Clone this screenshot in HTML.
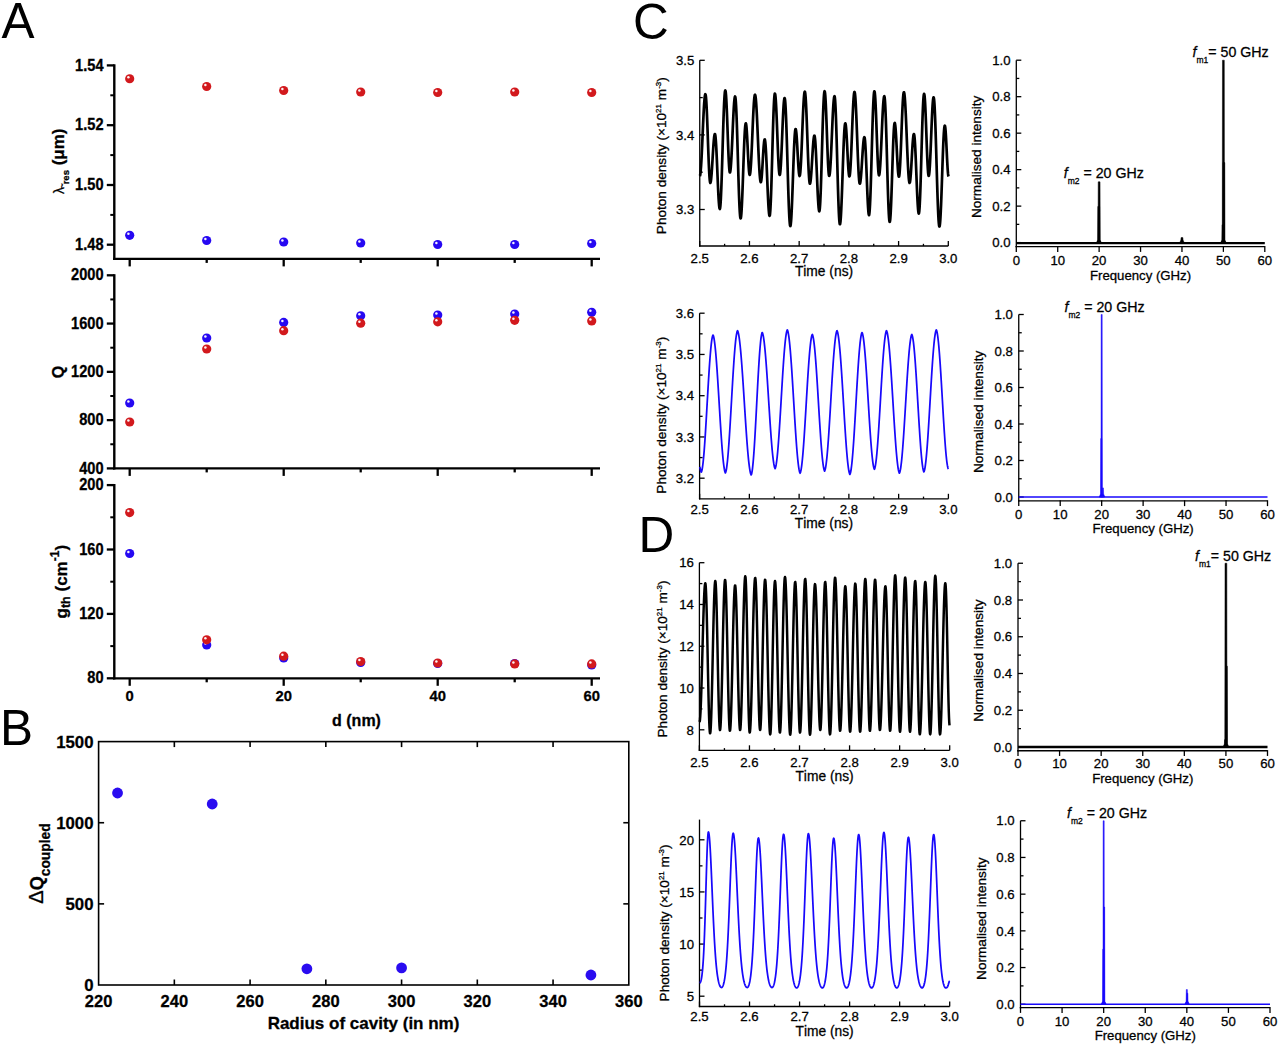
<!DOCTYPE html>
<html><head><meta charset="utf-8"><style>
html,body{margin:0;padding:0;background:#fff;}
svg{display:block;font-family:"Liberation Sans", sans-serif;font-kerning:none;}
text{stroke:#000;stroke-width:0.28px;}
</style></head><body>
<svg width="1280" height="1045" viewBox="0 0 1280 1045">
<rect width="1280" height="1045" fill="#fff"/>
<text x="1.50" y="38.00" font-size="49.5" font-weight="normal" text-anchor="start" style="stroke:none">A</text>
<text x="0.00" y="744.50" font-size="49.5" font-weight="normal" text-anchor="start" style="stroke:none">B</text>
<text x="633.00" y="38.50" font-size="49.5" font-weight="normal" text-anchor="start" style="stroke:none">C</text>
<text x="638.50" y="552.30" font-size="49.5" font-weight="normal" text-anchor="start" style="stroke:none">D</text>
<line x1="114.30" y1="64.30" x2="114.30" y2="260.00" stroke="#000" stroke-width="2.4" stroke-linecap="butt"/>
<line x1="113.10" y1="258.90" x2="600.00" y2="258.90" stroke="#000" stroke-width="2.3" stroke-linecap="butt"/>
<line x1="106.80" y1="65.40" x2="114.30" y2="65.40" stroke="#000" stroke-width="2.3" stroke-linecap="butt"/>
<g transform="translate(103.5,70.50) scale(1,1.13)"><text x="0" y="0" font-size="14.6" font-weight="bold" text-anchor="end">1.54</text></g>
<line x1="106.80" y1="125.20" x2="114.30" y2="125.20" stroke="#000" stroke-width="2.3" stroke-linecap="butt"/>
<g transform="translate(103.5,130.30) scale(1,1.13)"><text x="0" y="0" font-size="14.6" font-weight="bold" text-anchor="end">1.52</text></g>
<line x1="106.80" y1="185.00" x2="114.30" y2="185.00" stroke="#000" stroke-width="2.3" stroke-linecap="butt"/>
<g transform="translate(103.5,190.10) scale(1,1.13)"><text x="0" y="0" font-size="14.6" font-weight="bold" text-anchor="end">1.50</text></g>
<line x1="106.80" y1="244.70" x2="114.30" y2="244.70" stroke="#000" stroke-width="2.3" stroke-linecap="butt"/>
<g transform="translate(103.5,249.80) scale(1,1.13)"><text x="0" y="0" font-size="14.6" font-weight="bold" text-anchor="end">1.48</text></g>
<line x1="110.30" y1="95.30" x2="114.30" y2="95.30" stroke="#000" stroke-width="2.0" stroke-linecap="butt"/>
<line x1="110.30" y1="155.10" x2="114.30" y2="155.10" stroke="#000" stroke-width="2.0" stroke-linecap="butt"/>
<line x1="110.30" y1="214.90" x2="114.30" y2="214.90" stroke="#000" stroke-width="2.0" stroke-linecap="butt"/>
<line x1="129.70" y1="258.90" x2="129.70" y2="266.40" stroke="#000" stroke-width="2.3" stroke-linecap="butt"/>
<line x1="206.70" y1="258.90" x2="206.70" y2="262.90" stroke="#000" stroke-width="2.3" stroke-linecap="butt"/>
<line x1="283.70" y1="258.90" x2="283.70" y2="266.40" stroke="#000" stroke-width="2.3" stroke-linecap="butt"/>
<line x1="360.70" y1="258.90" x2="360.70" y2="262.90" stroke="#000" stroke-width="2.3" stroke-linecap="butt"/>
<line x1="437.70" y1="258.90" x2="437.70" y2="266.40" stroke="#000" stroke-width="2.3" stroke-linecap="butt"/>
<line x1="514.70" y1="258.90" x2="514.70" y2="262.90" stroke="#000" stroke-width="2.3" stroke-linecap="butt"/>
<line x1="591.70" y1="258.90" x2="591.70" y2="266.40" stroke="#000" stroke-width="2.3" stroke-linecap="butt"/>
<line x1="114.30" y1="274.20" x2="114.30" y2="469.50" stroke="#000" stroke-width="2.4" stroke-linecap="butt"/>
<line x1="113.10" y1="468.40" x2="600.00" y2="468.40" stroke="#000" stroke-width="2.3" stroke-linecap="butt"/>
<line x1="106.80" y1="275.30" x2="114.30" y2="275.30" stroke="#000" stroke-width="2.3" stroke-linecap="butt"/>
<g transform="translate(103.5,280.40) scale(1,1.13)"><text x="0" y="0" font-size="14.6" font-weight="bold" text-anchor="end">2000</text></g>
<line x1="106.80" y1="323.57" x2="114.30" y2="323.57" stroke="#000" stroke-width="2.3" stroke-linecap="butt"/>
<g transform="translate(103.5,328.68) scale(1,1.13)"><text x="0" y="0" font-size="14.6" font-weight="bold" text-anchor="end">1600</text></g>
<line x1="106.80" y1="371.85" x2="114.30" y2="371.85" stroke="#000" stroke-width="2.3" stroke-linecap="butt"/>
<g transform="translate(103.5,376.95) scale(1,1.13)"><text x="0" y="0" font-size="14.6" font-weight="bold" text-anchor="end">1200</text></g>
<line x1="106.80" y1="420.12" x2="114.30" y2="420.12" stroke="#000" stroke-width="2.3" stroke-linecap="butt"/>
<g transform="translate(103.5,425.23) scale(1,1.13)"><text x="0" y="0" font-size="14.6" font-weight="bold" text-anchor="end">800</text></g>
<line x1="106.80" y1="468.40" x2="114.30" y2="468.40" stroke="#000" stroke-width="2.3" stroke-linecap="butt"/>
<g transform="translate(103.5,473.50) scale(1,1.13)"><text x="0" y="0" font-size="14.6" font-weight="bold" text-anchor="end">400</text></g>
<line x1="110.30" y1="299.44" x2="114.30" y2="299.44" stroke="#000" stroke-width="2.0" stroke-linecap="butt"/>
<line x1="110.30" y1="347.71" x2="114.30" y2="347.71" stroke="#000" stroke-width="2.0" stroke-linecap="butt"/>
<line x1="110.30" y1="395.99" x2="114.30" y2="395.99" stroke="#000" stroke-width="2.0" stroke-linecap="butt"/>
<line x1="110.30" y1="444.26" x2="114.30" y2="444.26" stroke="#000" stroke-width="2.0" stroke-linecap="butt"/>
<line x1="129.70" y1="468.40" x2="129.70" y2="475.90" stroke="#000" stroke-width="2.3" stroke-linecap="butt"/>
<line x1="206.70" y1="468.40" x2="206.70" y2="472.40" stroke="#000" stroke-width="2.3" stroke-linecap="butt"/>
<line x1="283.70" y1="468.40" x2="283.70" y2="475.90" stroke="#000" stroke-width="2.3" stroke-linecap="butt"/>
<line x1="360.70" y1="468.40" x2="360.70" y2="472.40" stroke="#000" stroke-width="2.3" stroke-linecap="butt"/>
<line x1="437.70" y1="468.40" x2="437.70" y2="475.90" stroke="#000" stroke-width="2.3" stroke-linecap="butt"/>
<line x1="514.70" y1="468.40" x2="514.70" y2="472.40" stroke="#000" stroke-width="2.3" stroke-linecap="butt"/>
<line x1="591.70" y1="468.40" x2="591.70" y2="475.90" stroke="#000" stroke-width="2.3" stroke-linecap="butt"/>
<line x1="114.30" y1="484.00" x2="114.30" y2="679.40" stroke="#000" stroke-width="2.4" stroke-linecap="butt"/>
<line x1="113.10" y1="678.30" x2="600.00" y2="678.30" stroke="#000" stroke-width="2.3" stroke-linecap="butt"/>
<line x1="106.80" y1="485.10" x2="114.30" y2="485.10" stroke="#000" stroke-width="2.3" stroke-linecap="butt"/>
<g transform="translate(103.5,490.20) scale(1,1.13)"><text x="0" y="0" font-size="14.6" font-weight="bold" text-anchor="end">200</text></g>
<line x1="106.80" y1="549.50" x2="114.30" y2="549.50" stroke="#000" stroke-width="2.3" stroke-linecap="butt"/>
<g transform="translate(103.5,554.60) scale(1,1.13)"><text x="0" y="0" font-size="14.6" font-weight="bold" text-anchor="end">160</text></g>
<line x1="106.80" y1="613.90" x2="114.30" y2="613.90" stroke="#000" stroke-width="2.3" stroke-linecap="butt"/>
<g transform="translate(103.5,619.00) scale(1,1.13)"><text x="0" y="0" font-size="14.6" font-weight="bold" text-anchor="end">120</text></g>
<line x1="106.80" y1="678.30" x2="114.30" y2="678.30" stroke="#000" stroke-width="2.3" stroke-linecap="butt"/>
<g transform="translate(103.5,683.40) scale(1,1.13)"><text x="0" y="0" font-size="14.6" font-weight="bold" text-anchor="end">80</text></g>
<line x1="110.30" y1="517.30" x2="114.30" y2="517.30" stroke="#000" stroke-width="2.0" stroke-linecap="butt"/>
<line x1="110.30" y1="581.70" x2="114.30" y2="581.70" stroke="#000" stroke-width="2.0" stroke-linecap="butt"/>
<line x1="110.30" y1="646.10" x2="114.30" y2="646.10" stroke="#000" stroke-width="2.0" stroke-linecap="butt"/>
<line x1="129.70" y1="678.30" x2="129.70" y2="685.80" stroke="#000" stroke-width="2.3" stroke-linecap="butt"/>
<line x1="206.70" y1="678.30" x2="206.70" y2="682.30" stroke="#000" stroke-width="2.3" stroke-linecap="butt"/>
<line x1="283.70" y1="678.30" x2="283.70" y2="685.80" stroke="#000" stroke-width="2.3" stroke-linecap="butt"/>
<line x1="360.70" y1="678.30" x2="360.70" y2="682.30" stroke="#000" stroke-width="2.3" stroke-linecap="butt"/>
<line x1="437.70" y1="678.30" x2="437.70" y2="685.80" stroke="#000" stroke-width="2.3" stroke-linecap="butt"/>
<line x1="514.70" y1="678.30" x2="514.70" y2="682.30" stroke="#000" stroke-width="2.3" stroke-linecap="butt"/>
<line x1="591.70" y1="678.30" x2="591.70" y2="685.80" stroke="#000" stroke-width="2.3" stroke-linecap="butt"/>
<text x="129.70" y="701.30" font-size="14.8" font-weight="bold" text-anchor="middle" >0</text>
<text x="283.70" y="701.30" font-size="14.8" font-weight="bold" text-anchor="middle" >20</text>
<text x="437.70" y="701.30" font-size="14.8" font-weight="bold" text-anchor="middle" >40</text>
<text x="591.70" y="701.30" font-size="14.8" font-weight="bold" text-anchor="middle" >60</text>
<text x="356.50" y="725.50" font-size="16" font-weight="bold" text-anchor="middle" >d (nm)</text>
<g transform="translate(63.8,161.3) rotate(-90)"><text x="0" y="0" font-size="17" font-weight="bold" text-anchor="middle"><tspan font-weight="normal" font-size="14">λ</tspan><tspan font-size="9" font-weight="normal" dx="-1.5" dy="1">~</tspan><tspan font-size="9.5" dx="-1" dy="4">res</tspan><tspan dy="-5"> (μm)</tspan></text></g>
<g transform="translate(63.5,372) rotate(-90)"><text x="0" y="0" font-size="16" font-weight="bold" text-anchor="middle">Q</text></g>
<g transform="translate(66.5,581.7) rotate(-90)"><text x="0" y="0" font-size="17" font-weight="bold" text-anchor="middle">g<tspan font-size="12.5" dy="3">th</tspan><tspan dy="-3"> (cm</tspan><tspan font-size="12" dy="-7.5">-1</tspan><tspan dy="7.5">)</tspan></text></g>
<circle cx="129.70" cy="78.75" r="4.6" fill="#d2191d"/>
<circle cx="128.40" cy="77.25" r="1.25" fill="#fff" opacity="0.95"/>
<circle cx="129.70" cy="235.30" r="4.6" fill="#2608f2"/>
<circle cx="128.40" cy="233.80" r="1.25" fill="#fff" opacity="0.95"/>
<circle cx="129.70" cy="403.00" r="4.6" fill="#2608f2"/>
<circle cx="128.40" cy="401.50" r="1.25" fill="#fff" opacity="0.95"/>
<circle cx="129.70" cy="422.00" r="4.6" fill="#d2191d"/>
<circle cx="128.40" cy="420.50" r="1.25" fill="#fff" opacity="0.95"/>
<circle cx="129.70" cy="553.50" r="4.6" fill="#2608f2"/>
<circle cx="128.40" cy="552.00" r="1.25" fill="#fff" opacity="0.95"/>
<circle cx="129.70" cy="512.60" r="4.6" fill="#d2191d"/>
<circle cx="128.40" cy="511.10" r="1.25" fill="#fff" opacity="0.95"/>
<circle cx="206.70" cy="86.50" r="4.6" fill="#d2191d"/>
<circle cx="205.40" cy="85.00" r="1.25" fill="#fff" opacity="0.95"/>
<circle cx="206.70" cy="240.50" r="4.6" fill="#2608f2"/>
<circle cx="205.40" cy="239.00" r="1.25" fill="#fff" opacity="0.95"/>
<circle cx="206.70" cy="338.00" r="4.6" fill="#2608f2"/>
<circle cx="205.40" cy="336.50" r="1.25" fill="#fff" opacity="0.95"/>
<circle cx="206.70" cy="349.00" r="4.6" fill="#d2191d"/>
<circle cx="205.40" cy="347.50" r="1.25" fill="#fff" opacity="0.95"/>
<circle cx="206.70" cy="645.00" r="4.6" fill="#2608f2"/>
<circle cx="205.40" cy="643.50" r="1.25" fill="#fff" opacity="0.95"/>
<circle cx="206.70" cy="639.80" r="4.6" fill="#d2191d"/>
<circle cx="205.40" cy="638.30" r="1.25" fill="#fff" opacity="0.95"/>
<circle cx="283.70" cy="90.50" r="4.6" fill="#d2191d"/>
<circle cx="282.40" cy="89.00" r="1.25" fill="#fff" opacity="0.95"/>
<circle cx="283.70" cy="242.00" r="4.6" fill="#2608f2"/>
<circle cx="282.40" cy="240.50" r="1.25" fill="#fff" opacity="0.95"/>
<circle cx="283.70" cy="322.40" r="4.6" fill="#2608f2"/>
<circle cx="282.40" cy="320.90" r="1.25" fill="#fff" opacity="0.95"/>
<circle cx="283.70" cy="330.70" r="4.6" fill="#d2191d"/>
<circle cx="282.40" cy="329.20" r="1.25" fill="#fff" opacity="0.95"/>
<circle cx="283.70" cy="658.00" r="4.6" fill="#2608f2"/>
<circle cx="282.40" cy="656.50" r="1.25" fill="#fff" opacity="0.95"/>
<circle cx="283.70" cy="656.20" r="4.6" fill="#d2191d"/>
<circle cx="282.40" cy="654.70" r="1.25" fill="#fff" opacity="0.95"/>
<circle cx="360.70" cy="92.00" r="4.6" fill="#d2191d"/>
<circle cx="359.40" cy="90.50" r="1.25" fill="#fff" opacity="0.95"/>
<circle cx="360.70" cy="243.00" r="4.6" fill="#2608f2"/>
<circle cx="359.40" cy="241.50" r="1.25" fill="#fff" opacity="0.95"/>
<circle cx="360.70" cy="315.80" r="4.6" fill="#2608f2"/>
<circle cx="359.40" cy="314.30" r="1.25" fill="#fff" opacity="0.95"/>
<circle cx="360.70" cy="323.20" r="4.6" fill="#d2191d"/>
<circle cx="359.40" cy="321.70" r="1.25" fill="#fff" opacity="0.95"/>
<circle cx="360.70" cy="662.50" r="4.6" fill="#2608f2"/>
<circle cx="359.40" cy="661.00" r="1.25" fill="#fff" opacity="0.95"/>
<circle cx="360.70" cy="661.50" r="4.6" fill="#d2191d"/>
<circle cx="359.40" cy="660.00" r="1.25" fill="#fff" opacity="0.95"/>
<circle cx="437.70" cy="92.50" r="4.6" fill="#d2191d"/>
<circle cx="436.40" cy="91.00" r="1.25" fill="#fff" opacity="0.95"/>
<circle cx="437.70" cy="244.50" r="4.6" fill="#2608f2"/>
<circle cx="436.40" cy="243.00" r="1.25" fill="#fff" opacity="0.95"/>
<circle cx="437.70" cy="315.00" r="4.6" fill="#2608f2"/>
<circle cx="436.40" cy="313.50" r="1.25" fill="#fff" opacity="0.95"/>
<circle cx="437.70" cy="321.80" r="4.6" fill="#d2191d"/>
<circle cx="436.40" cy="320.30" r="1.25" fill="#fff" opacity="0.95"/>
<circle cx="437.70" cy="663.50" r="4.6" fill="#2608f2"/>
<circle cx="436.40" cy="662.00" r="1.25" fill="#fff" opacity="0.95"/>
<circle cx="437.70" cy="663.00" r="4.6" fill="#d2191d"/>
<circle cx="436.40" cy="661.50" r="1.25" fill="#fff" opacity="0.95"/>
<circle cx="514.70" cy="92.00" r="4.6" fill="#d2191d"/>
<circle cx="513.40" cy="90.50" r="1.25" fill="#fff" opacity="0.95"/>
<circle cx="514.70" cy="244.50" r="4.6" fill="#2608f2"/>
<circle cx="513.40" cy="243.00" r="1.25" fill="#fff" opacity="0.95"/>
<circle cx="514.70" cy="314.00" r="4.6" fill="#2608f2"/>
<circle cx="513.40" cy="312.50" r="1.25" fill="#fff" opacity="0.95"/>
<circle cx="514.70" cy="320.30" r="4.6" fill="#d2191d"/>
<circle cx="513.40" cy="318.80" r="1.25" fill="#fff" opacity="0.95"/>
<circle cx="514.70" cy="663.50" r="4.6" fill="#2608f2"/>
<circle cx="513.40" cy="662.00" r="1.25" fill="#fff" opacity="0.95"/>
<circle cx="514.70" cy="663.90" r="4.6" fill="#d2191d"/>
<circle cx="513.40" cy="662.40" r="1.25" fill="#fff" opacity="0.95"/>
<circle cx="591.70" cy="92.50" r="4.6" fill="#d2191d"/>
<circle cx="590.40" cy="91.00" r="1.25" fill="#fff" opacity="0.95"/>
<circle cx="591.70" cy="243.50" r="4.6" fill="#2608f2"/>
<circle cx="590.40" cy="242.00" r="1.25" fill="#fff" opacity="0.95"/>
<circle cx="591.70" cy="312.30" r="4.6" fill="#2608f2"/>
<circle cx="590.40" cy="310.80" r="1.25" fill="#fff" opacity="0.95"/>
<circle cx="591.70" cy="320.90" r="4.6" fill="#d2191d"/>
<circle cx="590.40" cy="319.40" r="1.25" fill="#fff" opacity="0.95"/>
<circle cx="591.70" cy="665.00" r="4.6" fill="#2608f2"/>
<circle cx="590.40" cy="663.50" r="1.25" fill="#fff" opacity="0.95"/>
<circle cx="591.70" cy="663.90" r="4.6" fill="#d2191d"/>
<circle cx="590.40" cy="662.40" r="1.25" fill="#fff" opacity="0.95"/>
<rect x="98.6" y="741.6" width="530.1999999999999" height="243.39999999999998" fill="none" stroke="#000" stroke-width="1.6"/>
<text x="98.60" y="1007.30" font-size="16.5" font-weight="bold" text-anchor="middle" >220</text>
<line x1="174.34" y1="985.00" x2="174.34" y2="979.50" stroke="#000" stroke-width="1.6" stroke-linecap="butt"/>
<line x1="174.34" y1="741.60" x2="174.34" y2="747.10" stroke="#000" stroke-width="1.6" stroke-linecap="butt"/>
<text x="174.34" y="1007.30" font-size="16.5" font-weight="bold" text-anchor="middle" >240</text>
<line x1="250.09" y1="985.00" x2="250.09" y2="979.50" stroke="#000" stroke-width="1.6" stroke-linecap="butt"/>
<line x1="250.09" y1="741.60" x2="250.09" y2="747.10" stroke="#000" stroke-width="1.6" stroke-linecap="butt"/>
<text x="250.09" y="1007.30" font-size="16.5" font-weight="bold" text-anchor="middle" >260</text>
<line x1="325.83" y1="985.00" x2="325.83" y2="979.50" stroke="#000" stroke-width="1.6" stroke-linecap="butt"/>
<line x1="325.83" y1="741.60" x2="325.83" y2="747.10" stroke="#000" stroke-width="1.6" stroke-linecap="butt"/>
<text x="325.83" y="1007.30" font-size="16.5" font-weight="bold" text-anchor="middle" >280</text>
<line x1="401.57" y1="985.00" x2="401.57" y2="979.50" stroke="#000" stroke-width="1.6" stroke-linecap="butt"/>
<line x1="401.57" y1="741.60" x2="401.57" y2="747.10" stroke="#000" stroke-width="1.6" stroke-linecap="butt"/>
<text x="401.57" y="1007.30" font-size="16.5" font-weight="bold" text-anchor="middle" >300</text>
<line x1="477.31" y1="985.00" x2="477.31" y2="979.50" stroke="#000" stroke-width="1.6" stroke-linecap="butt"/>
<line x1="477.31" y1="741.60" x2="477.31" y2="747.10" stroke="#000" stroke-width="1.6" stroke-linecap="butt"/>
<text x="477.31" y="1007.30" font-size="16.5" font-weight="bold" text-anchor="middle" >320</text>
<line x1="553.06" y1="985.00" x2="553.06" y2="979.50" stroke="#000" stroke-width="1.6" stroke-linecap="butt"/>
<line x1="553.06" y1="741.60" x2="553.06" y2="747.10" stroke="#000" stroke-width="1.6" stroke-linecap="butt"/>
<text x="553.06" y="1007.30" font-size="16.5" font-weight="bold" text-anchor="middle" >340</text>
<text x="628.80" y="1007.30" font-size="16.5" font-weight="bold" text-anchor="middle" >360</text>
<text x="93.50" y="991.00" font-size="16.8" font-weight="bold" text-anchor="end" >0</text>
<line x1="98.60" y1="903.87" x2="104.10" y2="903.87" stroke="#000" stroke-width="1.6" stroke-linecap="butt"/>
<line x1="628.80" y1="903.87" x2="623.30" y2="903.87" stroke="#000" stroke-width="1.6" stroke-linecap="butt"/>
<text x="93.50" y="909.87" font-size="16.8" font-weight="bold" text-anchor="end" >500</text>
<line x1="98.60" y1="822.73" x2="104.10" y2="822.73" stroke="#000" stroke-width="1.6" stroke-linecap="butt"/>
<line x1="628.80" y1="822.73" x2="623.30" y2="822.73" stroke="#000" stroke-width="1.6" stroke-linecap="butt"/>
<text x="93.50" y="828.73" font-size="16.8" font-weight="bold" text-anchor="end" >1000</text>
<text x="93.50" y="747.60" font-size="16.8" font-weight="bold" text-anchor="end" >1500</text>
<text x="363.50" y="1029.00" font-size="17" font-weight="bold" text-anchor="middle" >Radius of cavity (in nm)</text>
<g transform="translate(42.8,863.5) rotate(-90)"><text x="0" y="0" font-size="18" font-weight="bold" text-anchor="middle"><tspan font-weight="normal" font-size="20">Δ</tspan>Q<tspan font-size="13.8" dy="7">coupled</tspan></text></g>
<circle cx="117.54" cy="793.00" r="5.4" fill="#2a0cf0"/>
<circle cx="212.21" cy="804.00" r="5.4" fill="#2a0cf0"/>
<circle cx="306.89" cy="968.80" r="5.4" fill="#2a0cf0"/>
<circle cx="401.57" cy="967.90" r="5.4" fill="#2a0cf0"/>
<circle cx="590.93" cy="975.00" r="5.4" fill="#2a0cf0"/>
<line x1="699.75" y1="60.30" x2="699.75" y2="246.65" stroke="#000" stroke-width="1.3" stroke-linecap="butt"/>
<line x1="699.10" y1="246.00" x2="948.30" y2="246.00" stroke="#000" stroke-width="1.3" stroke-linecap="butt"/>
<line x1="699.75" y1="246.00" x2="699.75" y2="241.00" stroke="#000" stroke-width="1.3" stroke-linecap="butt"/>
<line x1="724.61" y1="246.00" x2="724.61" y2="243.80" stroke="#000" stroke-width="1.3" stroke-linecap="butt"/>
<line x1="749.46" y1="246.00" x2="749.46" y2="241.00" stroke="#000" stroke-width="1.3" stroke-linecap="butt"/>
<line x1="774.31" y1="246.00" x2="774.31" y2="243.80" stroke="#000" stroke-width="1.3" stroke-linecap="butt"/>
<line x1="799.17" y1="246.00" x2="799.17" y2="241.00" stroke="#000" stroke-width="1.3" stroke-linecap="butt"/>
<line x1="824.02" y1="246.00" x2="824.02" y2="243.80" stroke="#000" stroke-width="1.3" stroke-linecap="butt"/>
<line x1="848.88" y1="246.00" x2="848.88" y2="241.00" stroke="#000" stroke-width="1.3" stroke-linecap="butt"/>
<line x1="873.73" y1="246.00" x2="873.73" y2="243.80" stroke="#000" stroke-width="1.3" stroke-linecap="butt"/>
<line x1="898.59" y1="246.00" x2="898.59" y2="241.00" stroke="#000" stroke-width="1.3" stroke-linecap="butt"/>
<line x1="923.44" y1="246.00" x2="923.44" y2="243.80" stroke="#000" stroke-width="1.3" stroke-linecap="butt"/>
<line x1="948.30" y1="246.00" x2="948.30" y2="241.00" stroke="#000" stroke-width="1.3" stroke-linecap="butt"/>
<line x1="699.75" y1="60.30" x2="704.75" y2="60.30" stroke="#000" stroke-width="1.3" stroke-linecap="butt"/>
<text x="694.25" y="65.00" font-size="13.2" font-weight="normal" text-anchor="end" >3.5</text>
<line x1="699.75" y1="134.90" x2="704.75" y2="134.90" stroke="#000" stroke-width="1.3" stroke-linecap="butt"/>
<text x="694.25" y="139.60" font-size="13.2" font-weight="normal" text-anchor="end" >3.4</text>
<line x1="699.75" y1="209.50" x2="704.75" y2="209.50" stroke="#000" stroke-width="1.3" stroke-linecap="butt"/>
<text x="694.25" y="214.20" font-size="13.2" font-weight="normal" text-anchor="end" >3.3</text>
<line x1="699.75" y1="97.60" x2="702.75" y2="97.60" stroke="#000" stroke-width="1.3" stroke-linecap="butt"/>
<line x1="699.75" y1="172.20" x2="702.75" y2="172.20" stroke="#000" stroke-width="1.3" stroke-linecap="butt"/>
<text x="699.75" y="262.50" font-size="13.2" font-weight="normal" text-anchor="middle" >2.5</text>
<text x="749.46" y="262.50" font-size="13.2" font-weight="normal" text-anchor="middle" >2.6</text>
<text x="799.17" y="262.50" font-size="13.2" font-weight="normal" text-anchor="middle" >2.7</text>
<text x="848.88" y="262.50" font-size="13.2" font-weight="normal" text-anchor="middle" >2.8</text>
<text x="898.59" y="262.50" font-size="13.2" font-weight="normal" text-anchor="middle" >2.9</text>
<text x="948.30" y="262.50" font-size="13.2" font-weight="normal" text-anchor="middle" >3.0</text>
<text x="824.02" y="276.20" font-size="13.8" font-weight="normal" text-anchor="middle" >Time (ns)</text>
<g transform="translate(666.3,155.7) rotate(-90)"><text x="0" y="0" font-size="13.6" text-anchor="middle">Photon density (×10<tspan font-size="8" dy="-5">21</tspan><tspan dy="5"> m</tspan><tspan font-size="8" dy="-5">-3</tspan><tspan dy="5">)</tspan></text></g>
<line x1="699.60" y1="313.20" x2="699.60" y2="499.45" stroke="#000" stroke-width="1.3" stroke-linecap="butt"/>
<line x1="698.95" y1="498.80" x2="948.40" y2="498.80" stroke="#000" stroke-width="1.3" stroke-linecap="butt"/>
<line x1="699.60" y1="498.80" x2="699.60" y2="493.80" stroke="#000" stroke-width="1.3" stroke-linecap="butt"/>
<line x1="724.48" y1="498.80" x2="724.48" y2="496.60" stroke="#000" stroke-width="1.3" stroke-linecap="butt"/>
<line x1="749.36" y1="498.80" x2="749.36" y2="493.80" stroke="#000" stroke-width="1.3" stroke-linecap="butt"/>
<line x1="774.24" y1="498.80" x2="774.24" y2="496.60" stroke="#000" stroke-width="1.3" stroke-linecap="butt"/>
<line x1="799.12" y1="498.80" x2="799.12" y2="493.80" stroke="#000" stroke-width="1.3" stroke-linecap="butt"/>
<line x1="824.00" y1="498.80" x2="824.00" y2="496.60" stroke="#000" stroke-width="1.3" stroke-linecap="butt"/>
<line x1="848.88" y1="498.80" x2="848.88" y2="493.80" stroke="#000" stroke-width="1.3" stroke-linecap="butt"/>
<line x1="873.76" y1="498.80" x2="873.76" y2="496.60" stroke="#000" stroke-width="1.3" stroke-linecap="butt"/>
<line x1="898.64" y1="498.80" x2="898.64" y2="493.80" stroke="#000" stroke-width="1.3" stroke-linecap="butt"/>
<line x1="923.52" y1="498.80" x2="923.52" y2="496.60" stroke="#000" stroke-width="1.3" stroke-linecap="butt"/>
<line x1="948.40" y1="498.80" x2="948.40" y2="493.80" stroke="#000" stroke-width="1.3" stroke-linecap="butt"/>
<line x1="699.60" y1="313.20" x2="704.60" y2="313.20" stroke="#000" stroke-width="1.3" stroke-linecap="butt"/>
<text x="694.10" y="317.90" font-size="13.2" font-weight="normal" text-anchor="end" >3.6</text>
<line x1="699.60" y1="354.45" x2="704.60" y2="354.45" stroke="#000" stroke-width="1.3" stroke-linecap="butt"/>
<text x="694.10" y="359.15" font-size="13.2" font-weight="normal" text-anchor="end" >3.5</text>
<line x1="699.60" y1="395.70" x2="704.60" y2="395.70" stroke="#000" stroke-width="1.3" stroke-linecap="butt"/>
<text x="694.10" y="400.40" font-size="13.2" font-weight="normal" text-anchor="end" >3.4</text>
<line x1="699.60" y1="436.95" x2="704.60" y2="436.95" stroke="#000" stroke-width="1.3" stroke-linecap="butt"/>
<text x="694.10" y="441.65" font-size="13.2" font-weight="normal" text-anchor="end" >3.3</text>
<line x1="699.60" y1="478.20" x2="704.60" y2="478.20" stroke="#000" stroke-width="1.3" stroke-linecap="butt"/>
<text x="694.10" y="482.90" font-size="13.2" font-weight="normal" text-anchor="end" >3.2</text>
<line x1="699.60" y1="333.83" x2="702.60" y2="333.83" stroke="#000" stroke-width="1.3" stroke-linecap="butt"/>
<line x1="699.60" y1="375.07" x2="702.60" y2="375.07" stroke="#000" stroke-width="1.3" stroke-linecap="butt"/>
<line x1="699.60" y1="416.32" x2="702.60" y2="416.32" stroke="#000" stroke-width="1.3" stroke-linecap="butt"/>
<line x1="699.60" y1="457.58" x2="702.60" y2="457.58" stroke="#000" stroke-width="1.3" stroke-linecap="butt"/>
<text x="699.60" y="513.70" font-size="13.2" font-weight="normal" text-anchor="middle" >2.5</text>
<text x="749.36" y="513.70" font-size="13.2" font-weight="normal" text-anchor="middle" >2.6</text>
<text x="799.12" y="513.70" font-size="13.2" font-weight="normal" text-anchor="middle" >2.7</text>
<text x="848.88" y="513.70" font-size="13.2" font-weight="normal" text-anchor="middle" >2.8</text>
<text x="898.64" y="513.70" font-size="13.2" font-weight="normal" text-anchor="middle" >2.9</text>
<text x="948.40" y="513.70" font-size="13.2" font-weight="normal" text-anchor="middle" >3.0</text>
<text x="824.00" y="527.70" font-size="13.8" font-weight="normal" text-anchor="middle" >Time (ns)</text>
<g transform="translate(666.3,415.2) rotate(-90)"><text x="0" y="0" font-size="13.6" text-anchor="middle">Photon density (×10<tspan font-size="8" dy="-5">21</tspan><tspan dy="5"> m</tspan><tspan font-size="8" dy="-5">-3</tspan><tspan dy="5">)</tspan></text></g>
<line x1="699.40" y1="562.70" x2="699.40" y2="750.95" stroke="#000" stroke-width="1.3" stroke-linecap="butt"/>
<line x1="698.75" y1="750.30" x2="949.70" y2="750.30" stroke="#000" stroke-width="1.3" stroke-linecap="butt"/>
<line x1="699.40" y1="750.30" x2="699.40" y2="745.30" stroke="#000" stroke-width="1.3" stroke-linecap="butt"/>
<line x1="724.43" y1="750.30" x2="724.43" y2="748.10" stroke="#000" stroke-width="1.3" stroke-linecap="butt"/>
<line x1="749.46" y1="750.30" x2="749.46" y2="745.30" stroke="#000" stroke-width="1.3" stroke-linecap="butt"/>
<line x1="774.49" y1="750.30" x2="774.49" y2="748.10" stroke="#000" stroke-width="1.3" stroke-linecap="butt"/>
<line x1="799.52" y1="750.30" x2="799.52" y2="745.30" stroke="#000" stroke-width="1.3" stroke-linecap="butt"/>
<line x1="824.55" y1="750.30" x2="824.55" y2="748.10" stroke="#000" stroke-width="1.3" stroke-linecap="butt"/>
<line x1="849.58" y1="750.30" x2="849.58" y2="745.30" stroke="#000" stroke-width="1.3" stroke-linecap="butt"/>
<line x1="874.61" y1="750.30" x2="874.61" y2="748.10" stroke="#000" stroke-width="1.3" stroke-linecap="butt"/>
<line x1="899.64" y1="750.30" x2="899.64" y2="745.30" stroke="#000" stroke-width="1.3" stroke-linecap="butt"/>
<line x1="924.67" y1="750.30" x2="924.67" y2="748.10" stroke="#000" stroke-width="1.3" stroke-linecap="butt"/>
<line x1="949.70" y1="750.30" x2="949.70" y2="745.30" stroke="#000" stroke-width="1.3" stroke-linecap="butt"/>
<line x1="699.40" y1="562.70" x2="704.40" y2="562.70" stroke="#000" stroke-width="1.3" stroke-linecap="butt"/>
<text x="693.90" y="567.40" font-size="13.2" font-weight="normal" text-anchor="end" >16</text>
<line x1="699.40" y1="604.48" x2="704.40" y2="604.48" stroke="#000" stroke-width="1.3" stroke-linecap="butt"/>
<text x="693.90" y="609.18" font-size="13.2" font-weight="normal" text-anchor="end" >14</text>
<line x1="699.40" y1="646.25" x2="704.40" y2="646.25" stroke="#000" stroke-width="1.3" stroke-linecap="butt"/>
<text x="693.90" y="650.95" font-size="13.2" font-weight="normal" text-anchor="end" >12</text>
<line x1="699.40" y1="688.02" x2="704.40" y2="688.02" stroke="#000" stroke-width="1.3" stroke-linecap="butt"/>
<text x="693.90" y="692.73" font-size="13.2" font-weight="normal" text-anchor="end" >10</text>
<line x1="699.40" y1="729.80" x2="704.40" y2="729.80" stroke="#000" stroke-width="1.3" stroke-linecap="butt"/>
<text x="693.90" y="734.50" font-size="13.2" font-weight="normal" text-anchor="end" >8</text>
<line x1="699.40" y1="583.59" x2="702.40" y2="583.59" stroke="#000" stroke-width="1.3" stroke-linecap="butt"/>
<line x1="699.40" y1="625.36" x2="702.40" y2="625.36" stroke="#000" stroke-width="1.3" stroke-linecap="butt"/>
<line x1="699.40" y1="667.14" x2="702.40" y2="667.14" stroke="#000" stroke-width="1.3" stroke-linecap="butt"/>
<line x1="699.40" y1="708.91" x2="702.40" y2="708.91" stroke="#000" stroke-width="1.3" stroke-linecap="butt"/>
<text x="699.40" y="766.50" font-size="13.2" font-weight="normal" text-anchor="middle" >2.5</text>
<text x="749.46" y="766.50" font-size="13.2" font-weight="normal" text-anchor="middle" >2.6</text>
<text x="799.52" y="766.50" font-size="13.2" font-weight="normal" text-anchor="middle" >2.7</text>
<text x="849.58" y="766.50" font-size="13.2" font-weight="normal" text-anchor="middle" >2.8</text>
<text x="899.64" y="766.50" font-size="13.2" font-weight="normal" text-anchor="middle" >2.9</text>
<text x="949.70" y="766.50" font-size="13.2" font-weight="normal" text-anchor="middle" >3.0</text>
<text x="824.55" y="780.50" font-size="13.8" font-weight="normal" text-anchor="middle" >Time (ns)</text>
<g transform="translate(667.3,659) rotate(-90)"><text x="0" y="0" font-size="13.6" text-anchor="middle">Photon density (×10<tspan font-size="8" dy="-5">21</tspan><tspan dy="5"> m</tspan><tspan font-size="8" dy="-5">-3</tspan><tspan dy="5">)</tspan></text></g>
<line x1="699.50" y1="819.60" x2="699.50" y2="1007.15" stroke="#000" stroke-width="1.3" stroke-linecap="butt"/>
<line x1="698.85" y1="1006.50" x2="949.70" y2="1006.50" stroke="#000" stroke-width="1.3" stroke-linecap="butt"/>
<line x1="699.50" y1="1006.50" x2="699.50" y2="1001.50" stroke="#000" stroke-width="1.3" stroke-linecap="butt"/>
<line x1="724.52" y1="1006.50" x2="724.52" y2="1004.30" stroke="#000" stroke-width="1.3" stroke-linecap="butt"/>
<line x1="749.54" y1="1006.50" x2="749.54" y2="1001.50" stroke="#000" stroke-width="1.3" stroke-linecap="butt"/>
<line x1="774.56" y1="1006.50" x2="774.56" y2="1004.30" stroke="#000" stroke-width="1.3" stroke-linecap="butt"/>
<line x1="799.58" y1="1006.50" x2="799.58" y2="1001.50" stroke="#000" stroke-width="1.3" stroke-linecap="butt"/>
<line x1="824.60" y1="1006.50" x2="824.60" y2="1004.30" stroke="#000" stroke-width="1.3" stroke-linecap="butt"/>
<line x1="849.62" y1="1006.50" x2="849.62" y2="1001.50" stroke="#000" stroke-width="1.3" stroke-linecap="butt"/>
<line x1="874.64" y1="1006.50" x2="874.64" y2="1004.30" stroke="#000" stroke-width="1.3" stroke-linecap="butt"/>
<line x1="899.66" y1="1006.50" x2="899.66" y2="1001.50" stroke="#000" stroke-width="1.3" stroke-linecap="butt"/>
<line x1="924.68" y1="1006.50" x2="924.68" y2="1004.30" stroke="#000" stroke-width="1.3" stroke-linecap="butt"/>
<line x1="949.70" y1="1006.50" x2="949.70" y2="1001.50" stroke="#000" stroke-width="1.3" stroke-linecap="butt"/>
<line x1="699.50" y1="839.80" x2="704.50" y2="839.80" stroke="#000" stroke-width="1.3" stroke-linecap="butt"/>
<text x="694.00" y="844.50" font-size="13.2" font-weight="normal" text-anchor="end" >20</text>
<line x1="699.50" y1="891.93" x2="704.50" y2="891.93" stroke="#000" stroke-width="1.3" stroke-linecap="butt"/>
<text x="694.00" y="896.63" font-size="13.2" font-weight="normal" text-anchor="end" >15</text>
<line x1="699.50" y1="944.07" x2="704.50" y2="944.07" stroke="#000" stroke-width="1.3" stroke-linecap="butt"/>
<text x="694.00" y="948.77" font-size="13.2" font-weight="normal" text-anchor="end" >10</text>
<line x1="699.50" y1="996.20" x2="704.50" y2="996.20" stroke="#000" stroke-width="1.3" stroke-linecap="butt"/>
<text x="694.00" y="1000.90" font-size="13.2" font-weight="normal" text-anchor="end" >5</text>
<line x1="699.50" y1="865.87" x2="702.50" y2="865.87" stroke="#000" stroke-width="1.3" stroke-linecap="butt"/>
<line x1="699.50" y1="918.00" x2="702.50" y2="918.00" stroke="#000" stroke-width="1.3" stroke-linecap="butt"/>
<line x1="699.50" y1="970.13" x2="702.50" y2="970.13" stroke="#000" stroke-width="1.3" stroke-linecap="butt"/>
<text x="699.50" y="1021.40" font-size="13.2" font-weight="normal" text-anchor="middle" >2.5</text>
<text x="749.54" y="1021.40" font-size="13.2" font-weight="normal" text-anchor="middle" >2.6</text>
<text x="799.58" y="1021.40" font-size="13.2" font-weight="normal" text-anchor="middle" >2.7</text>
<text x="849.62" y="1021.40" font-size="13.2" font-weight="normal" text-anchor="middle" >2.8</text>
<text x="899.66" y="1021.40" font-size="13.2" font-weight="normal" text-anchor="middle" >2.9</text>
<text x="949.70" y="1021.40" font-size="13.2" font-weight="normal" text-anchor="middle" >3.0</text>
<text x="824.60" y="1035.50" font-size="13.8" font-weight="normal" text-anchor="middle" >Time (ns)</text>
<g transform="translate(668.8,922.9) rotate(-90)"><text x="0" y="0" font-size="13.6" text-anchor="middle">Photon density (×10<tspan font-size="8" dy="-5">21</tspan><tspan dy="5"> m</tspan><tspan font-size="8" dy="-5">-3</tspan><tspan dy="5">)</tspan></text></g>
<line x1="1016.30" y1="60.20" x2="1016.30" y2="247.35" stroke="#000" stroke-width="1.3" stroke-linecap="butt"/>
<line x1="1015.65" y1="246.70" x2="1264.80" y2="246.70" stroke="#000" stroke-width="1.3" stroke-linecap="butt"/>
<line x1="1016.30" y1="246.05" x2="1016.30" y2="251.90" stroke="#000" stroke-width="1.3" stroke-linecap="butt"/>
<line x1="1057.72" y1="246.05" x2="1057.72" y2="251.90" stroke="#000" stroke-width="1.3" stroke-linecap="butt"/>
<line x1="1099.13" y1="246.05" x2="1099.13" y2="251.90" stroke="#000" stroke-width="1.3" stroke-linecap="butt"/>
<line x1="1140.55" y1="246.05" x2="1140.55" y2="251.90" stroke="#000" stroke-width="1.3" stroke-linecap="butt"/>
<line x1="1181.97" y1="246.05" x2="1181.97" y2="251.90" stroke="#000" stroke-width="1.3" stroke-linecap="butt"/>
<line x1="1223.38" y1="246.05" x2="1223.38" y2="251.90" stroke="#000" stroke-width="1.3" stroke-linecap="butt"/>
<line x1="1264.80" y1="246.05" x2="1264.80" y2="251.90" stroke="#000" stroke-width="1.3" stroke-linecap="butt"/>
<line x1="1016.30" y1="60.20" x2="1021.30" y2="60.20" stroke="#000" stroke-width="1.3" stroke-linecap="butt"/>
<text x="1010.50" y="64.90" font-size="13.2" font-weight="normal" text-anchor="end" >1.0</text>
<line x1="1016.30" y1="78.44" x2="1019.30" y2="78.44" stroke="#000" stroke-width="1.3" stroke-linecap="butt"/>
<line x1="1016.30" y1="96.68" x2="1021.30" y2="96.68" stroke="#000" stroke-width="1.3" stroke-linecap="butt"/>
<text x="1010.50" y="101.38" font-size="13.2" font-weight="normal" text-anchor="end" >0.8</text>
<line x1="1016.30" y1="114.92" x2="1019.30" y2="114.92" stroke="#000" stroke-width="1.3" stroke-linecap="butt"/>
<line x1="1016.30" y1="133.16" x2="1021.30" y2="133.16" stroke="#000" stroke-width="1.3" stroke-linecap="butt"/>
<text x="1010.50" y="137.86" font-size="13.2" font-weight="normal" text-anchor="end" >0.6</text>
<line x1="1016.30" y1="151.40" x2="1019.30" y2="151.40" stroke="#000" stroke-width="1.3" stroke-linecap="butt"/>
<line x1="1016.30" y1="169.64" x2="1021.30" y2="169.64" stroke="#000" stroke-width="1.3" stroke-linecap="butt"/>
<text x="1010.50" y="174.34" font-size="13.2" font-weight="normal" text-anchor="end" >0.4</text>
<line x1="1016.30" y1="187.88" x2="1019.30" y2="187.88" stroke="#000" stroke-width="1.3" stroke-linecap="butt"/>
<line x1="1016.30" y1="206.12" x2="1021.30" y2="206.12" stroke="#000" stroke-width="1.3" stroke-linecap="butt"/>
<text x="1010.50" y="210.82" font-size="13.2" font-weight="normal" text-anchor="end" >0.2</text>
<line x1="1016.30" y1="224.36" x2="1019.30" y2="224.36" stroke="#000" stroke-width="1.3" stroke-linecap="butt"/>
<line x1="1016.30" y1="242.60" x2="1021.30" y2="242.60" stroke="#000" stroke-width="1.3" stroke-linecap="butt"/>
<text x="1010.50" y="247.30" font-size="13.2" font-weight="normal" text-anchor="end" >0.0</text>
<text x="1016.30" y="265.30" font-size="13.2" font-weight="normal" text-anchor="middle" >0</text>
<text x="1057.72" y="265.30" font-size="13.2" font-weight="normal" text-anchor="middle" >10</text>
<text x="1099.13" y="265.30" font-size="13.2" font-weight="normal" text-anchor="middle" >20</text>
<text x="1140.55" y="265.30" font-size="13.2" font-weight="normal" text-anchor="middle" >30</text>
<text x="1181.97" y="265.30" font-size="13.2" font-weight="normal" text-anchor="middle" >40</text>
<text x="1223.38" y="265.30" font-size="13.2" font-weight="normal" text-anchor="middle" >50</text>
<text x="1264.80" y="265.30" font-size="13.2" font-weight="normal" text-anchor="middle" >60</text>
<text x="1140.55" y="279.50" font-size="13.2" font-weight="normal" text-anchor="middle" >Frequency (GHz)</text>
<g transform="translate(981,156.9) rotate(-90)"><text x="0" y="0" font-size="13.6" text-anchor="middle">Normalised intensity</text></g>
<line x1="1018.75" y1="314.50" x2="1018.75" y2="501.55" stroke="#000" stroke-width="1.3" stroke-linecap="butt"/>
<line x1="1018.10" y1="500.90" x2="1267.50" y2="500.90" stroke="#000" stroke-width="1.3" stroke-linecap="butt"/>
<line x1="1018.75" y1="500.25" x2="1018.75" y2="506.10" stroke="#000" stroke-width="1.3" stroke-linecap="butt"/>
<line x1="1060.21" y1="500.25" x2="1060.21" y2="506.10" stroke="#000" stroke-width="1.3" stroke-linecap="butt"/>
<line x1="1101.67" y1="500.25" x2="1101.67" y2="506.10" stroke="#000" stroke-width="1.3" stroke-linecap="butt"/>
<line x1="1143.12" y1="500.25" x2="1143.12" y2="506.10" stroke="#000" stroke-width="1.3" stroke-linecap="butt"/>
<line x1="1184.58" y1="500.25" x2="1184.58" y2="506.10" stroke="#000" stroke-width="1.3" stroke-linecap="butt"/>
<line x1="1226.04" y1="500.25" x2="1226.04" y2="506.10" stroke="#000" stroke-width="1.3" stroke-linecap="butt"/>
<line x1="1267.50" y1="500.25" x2="1267.50" y2="506.10" stroke="#000" stroke-width="1.3" stroke-linecap="butt"/>
<line x1="1018.75" y1="314.50" x2="1023.75" y2="314.50" stroke="#000" stroke-width="1.3" stroke-linecap="butt"/>
<text x="1012.95" y="319.20" font-size="13.2" font-weight="normal" text-anchor="end" >1.0</text>
<line x1="1018.75" y1="332.75" x2="1021.75" y2="332.75" stroke="#000" stroke-width="1.3" stroke-linecap="butt"/>
<line x1="1018.75" y1="351.00" x2="1023.75" y2="351.00" stroke="#000" stroke-width="1.3" stroke-linecap="butt"/>
<text x="1012.95" y="355.70" font-size="13.2" font-weight="normal" text-anchor="end" >0.8</text>
<line x1="1018.75" y1="369.25" x2="1021.75" y2="369.25" stroke="#000" stroke-width="1.3" stroke-linecap="butt"/>
<line x1="1018.75" y1="387.50" x2="1023.75" y2="387.50" stroke="#000" stroke-width="1.3" stroke-linecap="butt"/>
<text x="1012.95" y="392.20" font-size="13.2" font-weight="normal" text-anchor="end" >0.6</text>
<line x1="1018.75" y1="405.75" x2="1021.75" y2="405.75" stroke="#000" stroke-width="1.3" stroke-linecap="butt"/>
<line x1="1018.75" y1="424.00" x2="1023.75" y2="424.00" stroke="#000" stroke-width="1.3" stroke-linecap="butt"/>
<text x="1012.95" y="428.70" font-size="13.2" font-weight="normal" text-anchor="end" >0.4</text>
<line x1="1018.75" y1="442.25" x2="1021.75" y2="442.25" stroke="#000" stroke-width="1.3" stroke-linecap="butt"/>
<line x1="1018.75" y1="460.50" x2="1023.75" y2="460.50" stroke="#000" stroke-width="1.3" stroke-linecap="butt"/>
<text x="1012.95" y="465.20" font-size="13.2" font-weight="normal" text-anchor="end" >0.2</text>
<line x1="1018.75" y1="478.75" x2="1021.75" y2="478.75" stroke="#000" stroke-width="1.3" stroke-linecap="butt"/>
<line x1="1018.75" y1="497.00" x2="1023.75" y2="497.00" stroke="#000" stroke-width="1.3" stroke-linecap="butt"/>
<text x="1012.95" y="501.70" font-size="13.2" font-weight="normal" text-anchor="end" >0.0</text>
<text x="1018.75" y="518.50" font-size="13.2" font-weight="normal" text-anchor="middle" >0</text>
<text x="1060.21" y="518.50" font-size="13.2" font-weight="normal" text-anchor="middle" >10</text>
<text x="1101.67" y="518.50" font-size="13.2" font-weight="normal" text-anchor="middle" >20</text>
<text x="1143.12" y="518.50" font-size="13.2" font-weight="normal" text-anchor="middle" >30</text>
<text x="1184.58" y="518.50" font-size="13.2" font-weight="normal" text-anchor="middle" >40</text>
<text x="1226.04" y="518.50" font-size="13.2" font-weight="normal" text-anchor="middle" >50</text>
<text x="1267.50" y="518.50" font-size="13.2" font-weight="normal" text-anchor="middle" >60</text>
<text x="1143.12" y="532.50" font-size="13.2" font-weight="normal" text-anchor="middle" >Frequency (GHz)</text>
<g transform="translate(982.5,411.9) rotate(-90)"><text x="0" y="0" font-size="13.6" text-anchor="middle">Normalised intensity</text></g>
<line x1="1018.00" y1="563.25" x2="1018.00" y2="751.40" stroke="#000" stroke-width="1.3" stroke-linecap="butt"/>
<line x1="1017.35" y1="750.75" x2="1267.50" y2="750.75" stroke="#000" stroke-width="1.3" stroke-linecap="butt"/>
<line x1="1018.00" y1="750.10" x2="1018.00" y2="755.95" stroke="#000" stroke-width="1.3" stroke-linecap="butt"/>
<line x1="1059.58" y1="750.10" x2="1059.58" y2="755.95" stroke="#000" stroke-width="1.3" stroke-linecap="butt"/>
<line x1="1101.17" y1="750.10" x2="1101.17" y2="755.95" stroke="#000" stroke-width="1.3" stroke-linecap="butt"/>
<line x1="1142.75" y1="750.10" x2="1142.75" y2="755.95" stroke="#000" stroke-width="1.3" stroke-linecap="butt"/>
<line x1="1184.33" y1="750.10" x2="1184.33" y2="755.95" stroke="#000" stroke-width="1.3" stroke-linecap="butt"/>
<line x1="1225.92" y1="750.10" x2="1225.92" y2="755.95" stroke="#000" stroke-width="1.3" stroke-linecap="butt"/>
<line x1="1267.50" y1="750.10" x2="1267.50" y2="755.95" stroke="#000" stroke-width="1.3" stroke-linecap="butt"/>
<line x1="1018.00" y1="563.25" x2="1023.00" y2="563.25" stroke="#000" stroke-width="1.3" stroke-linecap="butt"/>
<text x="1012.20" y="567.95" font-size="13.2" font-weight="normal" text-anchor="end" >1.0</text>
<line x1="1018.00" y1="581.62" x2="1021.00" y2="581.62" stroke="#000" stroke-width="1.3" stroke-linecap="butt"/>
<line x1="1018.00" y1="600.00" x2="1023.00" y2="600.00" stroke="#000" stroke-width="1.3" stroke-linecap="butt"/>
<text x="1012.20" y="604.70" font-size="13.2" font-weight="normal" text-anchor="end" >0.8</text>
<line x1="1018.00" y1="618.38" x2="1021.00" y2="618.38" stroke="#000" stroke-width="1.3" stroke-linecap="butt"/>
<line x1="1018.00" y1="636.75" x2="1023.00" y2="636.75" stroke="#000" stroke-width="1.3" stroke-linecap="butt"/>
<text x="1012.20" y="641.45" font-size="13.2" font-weight="normal" text-anchor="end" >0.6</text>
<line x1="1018.00" y1="655.12" x2="1021.00" y2="655.12" stroke="#000" stroke-width="1.3" stroke-linecap="butt"/>
<line x1="1018.00" y1="673.50" x2="1023.00" y2="673.50" stroke="#000" stroke-width="1.3" stroke-linecap="butt"/>
<text x="1012.20" y="678.20" font-size="13.2" font-weight="normal" text-anchor="end" >0.4</text>
<line x1="1018.00" y1="691.88" x2="1021.00" y2="691.88" stroke="#000" stroke-width="1.3" stroke-linecap="butt"/>
<line x1="1018.00" y1="710.25" x2="1023.00" y2="710.25" stroke="#000" stroke-width="1.3" stroke-linecap="butt"/>
<text x="1012.20" y="714.95" font-size="13.2" font-weight="normal" text-anchor="end" >0.2</text>
<line x1="1018.00" y1="728.62" x2="1021.00" y2="728.62" stroke="#000" stroke-width="1.3" stroke-linecap="butt"/>
<line x1="1018.00" y1="747.00" x2="1023.00" y2="747.00" stroke="#000" stroke-width="1.3" stroke-linecap="butt"/>
<text x="1012.20" y="751.70" font-size="13.2" font-weight="normal" text-anchor="end" >0.0</text>
<text x="1018.00" y="768.30" font-size="13.2" font-weight="normal" text-anchor="middle" >0</text>
<text x="1059.58" y="768.30" font-size="13.2" font-weight="normal" text-anchor="middle" >10</text>
<text x="1101.17" y="768.30" font-size="13.2" font-weight="normal" text-anchor="middle" >20</text>
<text x="1142.75" y="768.30" font-size="13.2" font-weight="normal" text-anchor="middle" >30</text>
<text x="1184.33" y="768.30" font-size="13.2" font-weight="normal" text-anchor="middle" >40</text>
<text x="1225.92" y="768.30" font-size="13.2" font-weight="normal" text-anchor="middle" >50</text>
<text x="1267.50" y="768.30" font-size="13.2" font-weight="normal" text-anchor="middle" >60</text>
<text x="1142.75" y="782.50" font-size="13.2" font-weight="normal" text-anchor="middle" >Frequency (GHz)</text>
<g transform="translate(982.5,660.6) rotate(-90)"><text x="0" y="0" font-size="13.6" text-anchor="middle">Normalised intensity</text></g>
<line x1="1020.50" y1="820.75" x2="1020.50" y2="1008.35" stroke="#000" stroke-width="1.3" stroke-linecap="butt"/>
<line x1="1019.85" y1="1007.70" x2="1270.00" y2="1007.70" stroke="#000" stroke-width="1.3" stroke-linecap="butt"/>
<line x1="1020.50" y1="1007.05" x2="1020.50" y2="1012.90" stroke="#000" stroke-width="1.3" stroke-linecap="butt"/>
<line x1="1062.08" y1="1007.05" x2="1062.08" y2="1012.90" stroke="#000" stroke-width="1.3" stroke-linecap="butt"/>
<line x1="1103.67" y1="1007.05" x2="1103.67" y2="1012.90" stroke="#000" stroke-width="1.3" stroke-linecap="butt"/>
<line x1="1145.25" y1="1007.05" x2="1145.25" y2="1012.90" stroke="#000" stroke-width="1.3" stroke-linecap="butt"/>
<line x1="1186.83" y1="1007.05" x2="1186.83" y2="1012.90" stroke="#000" stroke-width="1.3" stroke-linecap="butt"/>
<line x1="1228.42" y1="1007.05" x2="1228.42" y2="1012.90" stroke="#000" stroke-width="1.3" stroke-linecap="butt"/>
<line x1="1270.00" y1="1007.05" x2="1270.00" y2="1012.90" stroke="#000" stroke-width="1.3" stroke-linecap="butt"/>
<line x1="1020.50" y1="820.75" x2="1025.50" y2="820.75" stroke="#000" stroke-width="1.3" stroke-linecap="butt"/>
<text x="1014.70" y="825.45" font-size="13.2" font-weight="normal" text-anchor="end" >1.0</text>
<line x1="1020.50" y1="839.10" x2="1023.50" y2="839.10" stroke="#000" stroke-width="1.3" stroke-linecap="butt"/>
<line x1="1020.50" y1="857.45" x2="1025.50" y2="857.45" stroke="#000" stroke-width="1.3" stroke-linecap="butt"/>
<text x="1014.70" y="862.15" font-size="13.2" font-weight="normal" text-anchor="end" >0.8</text>
<line x1="1020.50" y1="875.80" x2="1023.50" y2="875.80" stroke="#000" stroke-width="1.3" stroke-linecap="butt"/>
<line x1="1020.50" y1="894.15" x2="1025.50" y2="894.15" stroke="#000" stroke-width="1.3" stroke-linecap="butt"/>
<text x="1014.70" y="898.85" font-size="13.2" font-weight="normal" text-anchor="end" >0.6</text>
<line x1="1020.50" y1="912.50" x2="1023.50" y2="912.50" stroke="#000" stroke-width="1.3" stroke-linecap="butt"/>
<line x1="1020.50" y1="930.85" x2="1025.50" y2="930.85" stroke="#000" stroke-width="1.3" stroke-linecap="butt"/>
<text x="1014.70" y="935.55" font-size="13.2" font-weight="normal" text-anchor="end" >0.4</text>
<line x1="1020.50" y1="949.20" x2="1023.50" y2="949.20" stroke="#000" stroke-width="1.3" stroke-linecap="butt"/>
<line x1="1020.50" y1="967.55" x2="1025.50" y2="967.55" stroke="#000" stroke-width="1.3" stroke-linecap="butt"/>
<text x="1014.70" y="972.25" font-size="13.2" font-weight="normal" text-anchor="end" >0.2</text>
<line x1="1020.50" y1="985.90" x2="1023.50" y2="985.90" stroke="#000" stroke-width="1.3" stroke-linecap="butt"/>
<line x1="1020.50" y1="1004.25" x2="1025.50" y2="1004.25" stroke="#000" stroke-width="1.3" stroke-linecap="butt"/>
<text x="1014.70" y="1008.95" font-size="13.2" font-weight="normal" text-anchor="end" >0.0</text>
<text x="1020.50" y="1026.00" font-size="13.2" font-weight="normal" text-anchor="middle" >0</text>
<text x="1062.08" y="1026.00" font-size="13.2" font-weight="normal" text-anchor="middle" >10</text>
<text x="1103.67" y="1026.00" font-size="13.2" font-weight="normal" text-anchor="middle" >20</text>
<text x="1145.25" y="1026.00" font-size="13.2" font-weight="normal" text-anchor="middle" >30</text>
<text x="1186.83" y="1026.00" font-size="13.2" font-weight="normal" text-anchor="middle" >40</text>
<text x="1228.42" y="1026.00" font-size="13.2" font-weight="normal" text-anchor="middle" >50</text>
<text x="1270.00" y="1026.00" font-size="13.2" font-weight="normal" text-anchor="middle" >60</text>
<text x="1145.25" y="1040.00" font-size="13.2" font-weight="normal" text-anchor="middle" >Frequency (GHz)</text>
<g transform="translate(986,918.7) rotate(-90)"><text x="0" y="0" font-size="13.6" text-anchor="middle">Normalised intensity</text></g>
<path d="M699.80,176.00 L700.05,175.60 L700.30,174.40 L700.55,172.43 L700.80,169.73 L701.05,166.35 L701.30,162.35 L701.55,157.82 L701.80,152.85 L702.05,147.52 L702.30,141.95 L702.55,136.25 L702.80,130.52 L703.05,124.88 L703.30,119.45 L703.55,114.32 L703.80,109.60 L704.05,105.38 L704.30,101.74 L704.55,98.76 L704.80,96.50 L705.05,94.99 L705.30,94.26 L705.55,94.40 L705.80,95.65 L706.05,98.00 L706.30,101.38 L706.55,105.72 L706.80,110.90 L707.05,116.79 L707.30,123.23 L707.55,130.07 L707.80,137.13 L708.05,144.22 L708.30,151.17 L708.55,157.79 L708.80,163.92 L709.05,169.40 L709.30,174.09 L709.55,177.87 L709.80,180.64 L710.05,182.33 L710.30,182.90 L710.55,182.54 L710.80,181.49 L711.05,179.76 L711.30,177.42 L711.55,174.52 L711.80,171.15 L712.05,167.42 L712.30,163.42 L712.55,159.28 L712.80,155.12 L713.05,151.05 L713.30,147.20 L713.55,143.68 L713.80,140.58 L714.05,138.01 L714.30,136.02 L714.55,134.70 L714.80,134.06 L715.05,134.17 L715.30,135.23 L715.55,137.21 L715.80,140.07 L716.05,143.74 L716.30,148.12 L716.55,153.10 L716.80,158.55 L717.05,164.33 L717.30,170.30 L717.55,176.30 L717.80,182.17 L718.05,187.77 L718.30,192.95 L718.55,197.59 L718.80,201.55 L719.05,204.75 L719.30,207.09 L719.55,208.52 L719.80,209.00 L720.05,208.40 L720.30,206.60 L720.55,203.64 L720.80,199.59 L721.05,194.52 L721.30,188.53 L721.55,181.76 L721.80,174.33 L722.05,166.41 L722.30,158.14 L722.55,149.70 L722.80,141.26 L723.05,132.99 L723.30,125.07 L723.55,117.64 L723.80,110.87 L724.05,104.88 L724.30,99.81 L724.55,95.76 L724.80,92.80 L725.05,91.00 L725.30,90.40 L725.55,91.00 L725.80,92.77 L726.05,95.67 L726.30,99.61 L726.55,104.47 L726.80,110.12 L727.05,116.39 L727.30,123.10 L727.55,130.05 L727.80,137.04 L728.05,143.87 L728.30,150.34 L728.55,156.25 L728.80,161.45 L729.05,165.78 L729.30,169.10 L729.55,171.33 L729.80,172.40 L730.05,172.34 L730.30,171.40 L730.55,169.61 L730.80,167.02 L731.05,163.69 L731.30,159.70 L731.55,155.13 L731.80,150.10 L732.05,144.70 L732.30,139.08 L732.55,133.35 L732.80,127.65 L733.05,122.10 L733.30,116.84 L733.55,111.98 L733.80,107.63 L734.05,103.89 L734.30,100.85 L734.55,98.58 L734.80,97.12 L735.05,96.52 L735.30,96.90 L735.55,98.50 L735.80,101.31 L736.05,105.26 L736.30,110.28 L736.55,116.25 L736.80,123.07 L737.05,130.59 L737.30,138.65 L737.55,147.10 L737.80,155.76 L738.05,164.45 L738.30,173.01 L738.55,181.25 L738.80,189.00 L739.05,196.11 L739.30,202.44 L739.55,207.85 L739.80,212.24 L740.05,215.51 L740.30,217.61 L740.55,218.48 L740.80,218.15 L741.05,216.75 L741.30,214.31 L741.55,210.87 L741.80,206.53 L742.05,201.37 L742.30,195.53 L742.55,189.12 L742.80,182.29 L743.05,175.21 L743.30,168.03 L743.55,160.91 L743.80,154.02 L744.05,147.52 L744.30,141.54 L744.55,136.24 L744.80,131.73 L745.05,128.10 L745.30,125.46 L745.55,123.84 L745.80,123.30 L746.05,123.82 L746.30,125.37 L746.55,127.88 L746.80,131.24 L747.05,135.33 L747.30,139.98 L747.55,145.00 L747.80,150.19 L748.05,155.34 L748.30,160.23 L748.55,164.68 L748.80,168.50 L749.05,171.54 L749.30,173.67 L749.55,174.81 L749.80,174.93 L750.05,174.14 L750.30,172.49 L750.55,170.01 L750.80,166.76 L751.05,162.82 L751.30,158.26 L751.55,153.18 L751.80,147.71 L752.05,141.95 L752.30,136.04 L752.55,130.10 L752.80,124.27 L753.05,118.66 L753.30,113.42 L753.55,108.64 L753.80,104.44 L754.05,100.90 L754.30,98.11 L754.55,96.12 L754.80,94.98 L755.05,94.72 L755.30,95.28 L755.55,96.63 L755.80,98.74 L756.05,101.59 L756.30,105.11 L756.55,109.23 L756.80,113.90 L757.05,119.01 L757.30,124.48 L757.55,130.21 L757.80,136.08 L758.05,142.00 L758.30,147.85 L758.55,153.54 L758.80,158.94 L759.05,163.97 L759.30,168.54 L759.55,172.55 L759.80,175.94 L760.05,178.64 L760.30,180.61 L760.55,181.80 L760.80,182.20 L761.05,181.77 L761.30,180.49 L761.55,178.41 L761.80,175.62 L762.05,172.24 L762.30,168.39 L762.55,164.23 L762.80,159.94 L763.05,155.68 L763.30,151.63 L763.55,147.94 L763.80,144.78 L764.05,142.27 L764.30,140.50 L764.55,139.56 L764.80,139.48 L765.05,140.36 L765.30,142.20 L765.55,144.94 L765.80,148.52 L766.05,152.86 L766.30,157.82 L766.55,163.30 L766.80,169.14 L767.05,175.20 L767.30,181.32 L767.55,187.35 L767.80,193.13 L768.05,198.52 L768.30,203.37 L768.55,207.56 L768.80,210.98 L769.05,213.55 L769.30,215.19 L769.55,215.88 L769.80,215.47 L770.05,213.74 L770.30,210.71 L770.55,206.45 L770.80,201.06 L771.05,194.65 L771.30,187.37 L771.55,179.37 L771.80,170.83 L772.05,161.94 L772.30,152.89 L772.55,143.87 L772.80,135.10 L773.05,126.75 L773.30,119.02 L773.55,112.07 L773.80,106.05 L774.05,101.11 L774.30,97.33 L774.55,94.81 L774.80,93.61 L775.05,93.70 L775.30,94.89 L775.55,97.13 L775.80,100.37 L776.05,104.51 L776.30,109.44 L776.55,115.04 L776.80,121.15 L777.05,127.61 L777.30,134.25 L777.55,140.89 L777.80,147.35 L778.05,153.46 L778.30,159.06 L778.55,163.99 L778.80,168.13 L779.05,171.37 L779.30,173.61 L779.55,174.80 L779.80,174.92 L780.05,174.03 L780.30,172.19 L780.55,169.42 L780.80,165.82 L781.05,161.46 L781.30,156.46 L781.55,150.95 L781.80,145.07 L782.05,138.97 L782.30,132.80 L782.55,126.73 L782.80,120.92 L783.05,115.50 L783.30,110.62 L783.55,106.40 L783.80,102.95 L784.05,100.37 L784.30,98.71 L784.55,98.02 L784.80,98.39 L785.05,99.96 L785.30,102.71 L785.55,106.58 L785.80,111.51 L786.05,117.39 L786.30,124.12 L786.55,131.57 L786.80,139.59 L787.05,148.04 L787.30,156.76 L787.55,165.58 L787.80,174.33 L788.05,182.85 L788.30,190.97 L788.55,198.55 L788.80,205.43 L789.05,211.49 L789.30,216.62 L789.55,220.71 L789.80,223.68 L790.05,225.49 L790.30,226.10 L790.55,225.57 L790.80,223.98 L791.05,221.38 L791.30,217.82 L791.55,213.37 L791.80,208.14 L792.05,202.24 L792.30,195.80 L792.55,188.95 L792.80,181.86 L793.05,174.67 L793.30,167.55 L793.55,160.64 L793.80,154.11 L794.05,148.09 L794.30,142.72 L794.55,138.10 L794.80,134.36 L795.05,131.56 L795.30,129.77 L795.55,129.02 L795.80,129.29 L796.05,130.45 L796.30,132.46 L796.55,135.24 L796.80,138.69 L797.05,142.66 L797.30,147.01 L797.55,151.58 L797.80,156.18 L798.05,160.63 L798.30,164.78 L798.55,168.45 L798.80,171.51 L799.05,173.84 L799.30,175.35 L799.55,175.98 L799.80,175.69 L800.05,174.45 L800.30,172.28 L800.55,169.24 L800.80,165.39 L801.05,160.82 L801.30,155.63 L801.55,149.95 L801.80,143.90 L802.05,137.62 L802.30,131.25 L802.55,124.94 L802.80,118.84 L803.05,113.07 L803.30,107.77 L803.55,103.07 L803.80,99.07 L804.05,95.86 L804.30,93.51 L804.55,92.08 L804.80,91.60 L805.05,92.14 L805.30,93.77 L805.55,96.43 L805.80,100.06 L806.05,104.59 L806.30,109.90 L806.55,115.86 L806.80,122.35 L807.05,129.19 L807.30,136.23 L807.55,143.31 L807.80,150.25 L808.05,156.90 L808.30,163.09 L808.55,168.67 L808.80,173.53 L809.05,177.53 L809.30,180.59 L809.55,182.63 L809.80,183.61 L810.05,183.57 L810.30,182.77 L810.55,181.27 L810.80,179.11 L811.05,176.36 L811.30,173.10 L811.55,169.43 L811.80,165.47 L812.05,161.33 L812.30,157.14 L812.55,153.02 L812.80,149.11 L813.05,145.51 L813.30,142.35 L813.55,139.71 L813.80,137.68 L814.05,136.31 L814.30,135.66 L814.55,135.77 L814.80,136.84 L815.05,138.84 L815.30,141.73 L815.55,145.43 L815.80,149.85 L816.05,154.88 L816.30,160.38 L816.55,166.21 L816.80,172.24 L817.05,178.29 L817.30,184.22 L817.55,189.87 L817.80,195.10 L818.05,199.78 L818.30,203.78 L818.55,207.01 L818.80,209.37 L819.05,210.81 L819.30,211.30 L819.55,210.64 L819.80,208.68 L820.05,205.46 L820.30,201.06 L820.55,195.56 L820.80,189.09 L821.05,181.79 L821.30,173.82 L821.55,165.35 L821.80,156.58 L822.05,147.69 L822.30,138.88 L822.55,130.34 L822.80,122.26 L823.05,114.81 L823.30,108.16 L823.55,102.46 L823.80,97.83 L824.05,94.36 L824.30,92.15 L824.55,91.23 L824.80,91.59 L825.05,93.19 L825.30,95.95 L825.55,99.82 L825.80,104.66 L826.05,110.35 L826.30,116.71 L826.55,123.56 L826.80,130.71 L827.05,137.94 L827.30,145.04 L827.55,151.81 L827.80,158.05 L828.05,163.58 L828.30,168.24 L828.55,171.89 L828.80,174.43 L829.05,175.78 L829.30,175.93 L829.55,175.14 L829.80,173.50 L830.05,171.04 L830.30,167.81 L830.55,163.89 L830.80,159.36 L831.05,154.32 L831.30,148.88 L831.55,143.16 L831.80,137.28 L832.05,131.38 L832.30,125.58 L832.55,120.02 L832.80,114.80 L833.05,110.05 L833.30,105.88 L833.55,102.36 L833.80,99.59 L834.05,97.61 L834.30,96.48 L834.55,96.23 L834.80,97.17 L835.05,99.45 L835.30,103.01 L835.55,107.78 L835.80,113.66 L836.05,120.52 L836.30,128.22 L836.55,136.60 L836.80,145.48 L837.05,154.67 L837.30,163.97 L837.55,173.20 L837.80,182.16 L838.05,190.65 L838.30,198.50 L838.55,205.54 L838.80,211.63 L839.05,216.63 L839.30,220.44 L839.55,222.98 L839.80,224.19 L840.05,224.11 L840.30,222.94 L840.55,220.73 L840.80,217.53 L841.05,213.41 L841.30,208.46 L841.55,202.77 L841.80,196.46 L842.05,189.68 L842.30,182.57 L842.55,175.27 L842.80,167.94 L843.05,160.73 L843.30,153.80 L843.55,147.29 L843.80,141.34 L844.05,136.08 L844.30,131.61 L844.55,128.03 L844.80,125.42 L845.05,123.83 L845.30,123.30 L845.55,123.79 L845.80,125.23 L846.05,127.57 L846.30,130.73 L846.55,134.60 L846.80,139.02 L847.05,143.84 L847.30,148.88 L847.55,153.96 L847.80,158.89 L848.05,163.49 L848.30,167.60 L848.55,171.05 L848.80,173.74 L849.05,175.55 L849.30,176.42 L849.55,176.32 L849.80,175.22 L850.05,173.15 L850.30,170.16 L850.55,166.32 L850.80,161.72 L851.05,156.47 L851.30,150.69 L851.55,144.52 L851.80,138.10 L852.05,131.60 L852.30,125.15 L852.55,118.92 L852.80,113.05 L853.05,107.68 L853.30,102.94 L853.55,98.94 L853.80,95.77 L854.05,93.51 L854.30,92.22 L854.55,91.92 L854.80,92.62 L855.05,94.32 L855.30,96.96 L855.55,100.51 L855.80,104.87 L856.05,109.95 L856.30,115.64 L856.55,121.82 L856.80,128.35 L857.05,135.08 L857.30,141.88 L857.55,148.58 L857.80,155.05 L858.05,161.14 L858.30,166.72 L858.55,171.67 L858.80,175.87 L859.05,179.24 L859.30,181.70 L859.55,183.20 L859.80,183.70 L860.05,183.36 L860.30,182.35 L860.55,180.71 L860.80,178.47 L861.05,175.71 L861.30,172.51 L861.55,168.95 L861.80,165.14 L862.05,161.20 L862.30,157.23 L862.55,153.35 L862.80,149.68 L863.05,146.32 L863.30,143.37 L863.55,140.92 L863.80,139.03 L864.05,137.76 L864.30,137.15 L864.55,137.30 L864.80,138.55 L865.05,140.88 L865.30,144.24 L865.55,148.52 L865.80,153.61 L866.05,159.35 L866.30,165.58 L866.55,172.11 L866.80,178.76 L867.05,185.33 L867.30,191.64 L867.55,197.49 L867.80,202.72 L868.05,207.18 L868.30,210.73 L868.55,213.27 L868.80,214.74 L869.05,215.07 L869.30,214.16 L869.55,211.96 L869.80,208.51 L870.05,203.90 L870.30,198.21 L870.55,191.57 L870.80,184.13 L871.05,176.02 L871.30,167.44 L871.55,158.55 L871.80,149.55 L872.05,140.62 L872.30,131.96 L872.55,123.75 L872.80,116.16 L873.05,109.34 L873.30,103.46 L873.55,98.62 L873.80,94.94 L874.05,92.48 L874.30,91.30 L874.55,91.42 L874.80,92.76 L875.05,95.28 L875.30,98.90 L875.55,103.52 L875.80,109.00 L876.05,115.19 L876.30,121.91 L876.55,128.95 L876.80,136.12 L877.05,143.21 L877.30,150.00 L877.55,156.31 L877.80,161.95 L878.05,166.76 L878.30,170.59 L878.55,173.33 L878.80,174.91 L879.05,175.28 L879.30,174.68 L879.55,173.22 L879.80,170.94 L880.05,167.88 L880.30,164.13 L880.55,159.75 L880.80,154.84 L881.05,149.52 L881.30,143.90 L881.55,138.09 L881.80,132.24 L882.05,126.46 L882.30,120.89 L882.55,115.64 L882.80,110.83 L883.05,106.57 L883.30,102.95 L883.55,100.04 L883.80,97.92 L884.05,96.63 L884.30,96.20 L884.55,96.86 L884.80,98.84 L885.05,102.09 L885.30,106.55 L885.55,112.11 L885.80,118.67 L886.05,126.08 L886.30,134.19 L886.55,142.82 L886.80,151.80 L887.05,160.93 L887.30,170.02 L887.55,178.88 L887.80,187.33 L888.05,195.18 L888.30,202.26 L888.55,208.44 L888.80,213.57 L889.05,217.56 L889.30,220.30 L889.55,221.76 L889.80,221.90 L890.05,220.81 L890.30,218.52 L890.55,215.10 L890.80,210.63 L891.05,205.22 L891.30,199.00 L891.55,192.13 L891.80,184.77 L892.05,177.11 L892.30,169.34 L892.55,161.64 L892.80,154.21 L893.05,147.23 L893.30,140.87 L893.55,135.28 L893.80,130.61 L894.05,126.98 L894.30,124.46 L894.55,123.12 L894.80,122.98 L895.05,123.82 L895.30,125.57 L895.55,128.17 L895.80,131.52 L896.05,135.51 L896.30,140.00 L896.55,144.84 L896.80,149.85 L897.05,154.86 L897.30,159.70 L897.55,164.19 L897.80,168.18 L898.05,171.53 L898.30,174.13 L898.55,175.88 L898.80,176.72 L899.05,176.61 L899.30,175.47 L899.55,173.32 L899.80,170.22 L900.05,166.23 L900.30,161.46 L900.55,156.03 L900.80,150.07 L901.05,143.73 L901.30,137.16 L901.55,130.52 L901.80,123.98 L902.05,117.70 L902.30,111.83 L902.55,106.53 L902.80,101.91 L903.05,98.09 L903.30,95.17 L903.55,93.22 L903.80,92.28 L904.05,92.35 L904.30,93.30 L904.55,95.08 L904.80,97.67 L905.05,101.01 L905.30,105.04 L905.55,109.70 L905.80,114.87 L906.05,120.48 L906.30,126.42 L906.55,132.56 L906.80,138.80 L907.05,145.01 L907.30,151.09 L907.55,156.90 L907.80,162.35 L908.05,167.33 L908.30,171.75 L908.55,175.52 L908.80,178.56 L909.05,180.83 L909.30,182.28 L909.55,182.88 L909.80,182.64 L910.05,181.59 L910.30,179.77 L910.55,177.24 L910.80,174.09 L911.05,170.42 L911.30,166.34 L911.55,162.01 L911.80,157.56 L912.05,153.13 L912.30,148.89 L912.55,144.96 L912.80,141.48 L913.05,138.57 L913.30,136.31 L913.55,134.80 L913.80,134.07 L914.05,134.18 L914.30,135.30 L914.55,137.41 L914.80,140.44 L915.05,144.34 L915.30,148.99 L915.55,154.27 L915.80,160.05 L916.05,166.19 L916.30,172.52 L916.55,178.89 L916.80,185.12 L917.05,191.07 L917.30,196.57 L917.55,201.49 L917.80,205.70 L918.05,209.09 L918.30,211.57 L918.55,213.09 L918.80,213.60 L919.05,212.94 L919.30,210.99 L919.55,207.78 L919.80,203.38 L920.05,197.90 L920.30,191.44 L920.55,184.16 L920.80,176.21 L921.05,167.77 L921.30,159.02 L921.55,150.15 L921.80,141.36 L922.05,132.84 L922.30,124.78 L922.55,117.35 L922.80,110.72 L923.05,105.03 L923.30,100.41 L923.55,96.96 L923.80,94.74 L924.05,93.83 L924.30,94.18 L924.55,95.73 L924.80,98.41 L925.05,102.15 L925.30,106.85 L925.55,112.36 L925.80,118.53 L926.05,125.17 L926.30,132.10 L926.55,139.10 L926.80,145.99 L927.05,152.55 L927.30,158.60 L927.55,163.96 L927.80,168.48 L928.05,172.02 L928.30,174.48 L928.55,175.78 L928.80,175.92 L929.05,175.01 L929.30,173.12 L929.55,170.30 L929.80,166.61 L930.05,162.16 L930.30,157.05 L930.55,151.42 L930.80,145.41 L931.05,139.17 L931.30,132.87 L931.55,126.67 L931.80,120.72 L932.05,115.18 L932.30,110.19 L932.55,105.88 L932.80,102.36 L933.05,99.72 L933.30,98.03 L933.55,97.32 L933.80,97.68 L934.05,99.21 L934.30,101.89 L934.55,105.67 L934.80,110.48 L935.05,116.24 L935.30,122.83 L935.55,130.13 L935.80,138.02 L936.05,146.35 L936.30,154.96 L936.55,163.70 L936.80,172.41 L937.05,180.93 L937.30,189.10 L937.55,196.77 L937.80,203.80 L938.05,210.07 L938.30,215.46 L938.55,219.87 L938.80,223.22 L939.05,225.44 L939.30,226.51 L939.55,226.41 L939.80,225.24 L940.05,223.03 L940.30,219.83 L940.55,215.71 L940.80,210.76 L941.05,205.07 L941.30,198.76 L941.55,191.98 L941.80,184.87 L942.05,177.57 L942.30,170.24 L942.55,163.03 L942.80,156.10 L943.05,149.59 L943.30,143.64 L943.55,138.38 L943.80,133.91 L944.05,130.33 L944.30,127.72 L944.55,126.13 L944.80,125.60 L945.05,126.14 L945.30,127.74 L945.55,130.34 L945.80,133.81 L946.05,138.02 L946.30,142.79 L946.55,147.90 L946.80,153.15 L947.05,158.31 L947.30,163.16 L947.55,167.50 L947.80,171.13 L948.05,173.91 L948.30,175.72 L948.55,176.48" fill="none" stroke="#000" stroke-width="2.7" stroke-linejoin="round" />
<path d="M699.50,722.00 L699.75,721.36 L700.00,719.47 L700.25,716.35 L700.50,712.07 L700.75,706.69 L701.00,700.33 L701.25,693.09 L701.50,685.11 L701.75,676.53 L702.00,667.52 L702.25,658.23 L702.50,648.84 L702.75,639.52 L703.00,630.44 L703.25,621.76 L703.50,613.65 L703.75,606.26 L704.00,599.71 L704.25,594.12 L704.50,589.61 L704.75,586.26 L705.00,584.11 L705.25,583.23 L705.50,583.84 L705.75,586.44 L706.00,590.95 L706.25,597.26 L706.50,605.21 L706.75,614.58 L707.00,625.11 L707.25,636.54 L707.50,648.54 L707.75,660.81 L708.00,673.01 L708.25,684.82 L708.50,695.92 L708.75,706.02 L709.00,714.85 L709.25,722.17 L709.50,727.78 L709.75,731.54 L710.00,733.34 L710.25,733.19 L710.50,731.28 L710.75,727.70 L711.00,722.50 L711.25,715.83 L711.50,707.81 L711.75,698.65 L712.00,688.54 L712.25,677.73 L712.50,666.44 L712.75,654.95 L713.00,643.51 L713.25,632.38 L713.50,621.81 L713.75,612.06 L714.00,603.33 L714.25,595.83 L714.50,589.73 L714.75,585.17 L715.00,582.25 L715.25,581.03 L715.50,581.67 L715.75,584.35 L716.00,589.01 L716.25,595.53 L716.50,603.72 L716.75,613.36 L717.00,624.17 L717.25,635.85 L717.50,648.09 L717.75,660.53 L718.00,672.83 L718.25,684.65 L718.50,695.66 L718.75,705.56 L719.00,714.06 L719.25,720.93 L719.50,725.98 L719.75,729.06 L720.00,730.10 L720.25,729.21 L720.50,726.56 L720.75,722.22 L721.00,716.29 L721.25,708.90 L721.50,700.24 L721.75,690.50 L722.00,679.93 L722.25,668.76 L722.50,657.26 L722.75,645.71 L723.00,634.38 L723.25,623.54 L723.50,613.44 L723.75,604.32 L724.00,596.40 L724.25,589.87 L724.50,584.87 L724.75,581.54 L725.00,579.94 L725.25,580.16 L725.50,582.37 L725.75,586.53 L726.00,592.53 L726.25,600.21 L726.50,609.36 L726.75,619.74 L727.00,631.07 L727.25,643.04 L727.50,655.35 L727.75,667.66 L728.00,679.63 L728.25,690.96 L728.50,701.34 L728.75,710.49 L729.00,718.17 L729.25,724.17 L729.50,728.33 L729.75,730.54 L730.00,730.77 L730.25,729.28 L730.50,726.17 L730.75,721.51 L731.00,715.41 L731.25,708.00 L731.50,699.46 L731.75,689.97 L732.00,679.76 L732.25,669.05 L732.50,658.10 L732.75,647.15 L733.00,636.44 L733.25,626.23 L733.50,616.74 L733.75,608.20 L734.00,600.79 L734.25,594.69 L734.50,590.03 L734.75,586.92 L735.00,585.43 L735.25,585.62 L735.50,587.57 L735.75,591.25 L736.00,596.57 L736.25,603.39 L736.50,611.55 L736.75,620.85 L737.00,631.05 L737.25,641.91 L737.50,653.15 L737.75,664.51 L738.00,675.71 L738.25,686.45 L738.50,696.49 L738.75,705.58 L739.00,713.49 L739.25,720.02 L739.50,725.02 L739.75,728.36 L740.00,729.96 L740.25,729.78 L740.50,727.87 L740.75,724.25 L741.00,719.01 L741.25,712.27 L741.50,704.19 L741.75,694.95 L742.00,684.76 L742.25,673.85 L742.50,662.47 L742.75,650.88 L743.00,639.34 L743.25,628.12 L743.50,617.46 L743.75,607.62 L744.00,598.82 L744.25,591.26 L744.50,585.11 L744.75,580.51 L745.00,577.56 L745.25,576.34 L745.50,577.10 L745.75,580.30 L746.00,585.86 L746.25,593.60 L746.50,603.27 L746.75,614.57 L747.00,627.14 L747.25,640.57 L747.50,654.45 L747.75,668.33 L748.00,681.76 L748.25,694.33 L748.50,705.63 L748.75,715.30 L749.00,723.04 L749.25,728.60 L749.50,731.80 L749.75,732.57 L750.00,731.47 L750.25,728.81 L750.50,724.66 L750.75,719.10 L751.00,712.24 L751.25,704.21 L751.50,695.19 L751.75,685.36 L752.00,674.91 L752.25,664.07 L752.50,653.04 L752.75,642.06 L753.00,631.35 L753.25,621.12 L753.50,611.59 L753.75,602.95 L754.00,595.37 L754.25,589.01 L754.50,584.00 L754.75,580.44 L755.00,578.40 L755.25,577.94 L755.50,579.30 L755.75,582.58 L756.00,587.69 L756.25,594.50 L756.50,602.84 L756.75,612.48 L757.00,623.20 L757.25,634.70 L757.50,646.69 L757.75,658.88 L758.00,670.93 L758.25,682.56 L758.50,693.45 L758.75,703.33 L759.00,711.95 L759.25,719.08 L759.50,724.54 L759.75,728.19 L760.00,729.94 L760.25,729.77 L760.50,727.74 L760.75,723.91 L761.00,718.39 L761.25,711.30 L761.50,702.82 L761.75,693.16 L762.00,682.55 L762.25,671.27 L762.50,659.57 L762.75,647.77 L763.00,636.14 L763.25,624.96 L763.50,614.53 L763.75,605.09 L764.00,596.87 L764.25,590.08 L764.50,584.88 L764.75,581.41 L765.00,579.75 L765.25,579.93 L765.50,581.94 L765.75,585.72 L766.00,591.19 L766.25,598.22 L766.50,606.64 L766.75,616.25 L767.00,626.83 L767.25,638.12 L767.50,649.86 L767.75,661.76 L768.00,673.56 L768.25,684.96 L768.50,695.70 L768.75,705.52 L769.00,714.20 L769.25,721.52 L769.50,727.32 L769.75,731.45 L770.00,733.81 L770.25,734.36 L770.50,732.93 L770.75,729.48 L771.00,724.12 L771.25,716.99 L771.50,708.27 L771.75,698.20 L772.00,687.05 L772.25,675.12 L772.50,662.72 L772.75,650.18 L773.00,637.85 L773.25,626.05 L773.50,615.09 L773.75,605.27 L774.00,596.85 L774.25,590.06 L774.50,585.07 L774.75,582.02 L775.00,581.00 L775.25,581.97 L775.50,584.86 L775.75,589.60 L776.00,596.05 L776.25,604.07 L776.50,613.43 L776.75,623.91 L777.00,635.23 L777.25,647.11 L777.50,659.23 L777.75,671.29 L778.00,682.98 L778.25,694.00 L778.50,704.06 L778.75,712.91 L779.00,720.33 L779.25,726.11 L779.50,730.12 L779.75,732.25 L780.00,732.45 L780.25,730.80 L780.50,727.35 L780.75,722.18 L781.00,715.41 L781.25,707.21 L781.50,697.77 L781.75,687.32 L782.00,676.09 L782.25,664.36 L782.50,652.40 L782.75,640.50 L783.00,628.94 L783.25,617.99 L783.50,607.92 L783.75,598.95 L784.00,591.30 L784.25,585.16 L784.50,580.66 L784.75,577.92 L785.00,577.00 L785.25,577.90 L785.50,580.57 L785.75,584.96 L786.00,590.96 L786.25,598.44 L786.50,607.22 L786.75,617.11 L787.00,627.89 L787.25,639.30 L787.50,651.09 L787.75,662.99 L788.00,674.72 L788.25,686.02 L788.50,696.64 L788.75,706.33 L789.00,714.87 L789.25,722.07 L789.50,727.75 L789.75,731.80 L790.00,734.13 L790.25,734.66 L790.50,733.35 L790.75,730.18 L791.00,725.25 L791.25,718.67 L791.50,710.60 L791.75,701.24 L792.00,690.83 L792.25,679.61 L792.50,667.88 L792.75,655.90 L793.00,643.98 L793.25,632.42 L793.50,621.49 L793.75,611.47 L794.00,602.61 L794.25,595.11 L794.50,589.17 L794.75,584.93 L795.00,582.50 L795.25,581.94 L795.50,583.35 L795.75,586.73 L796.00,591.99 L796.25,599.00 L796.50,607.57 L796.75,617.46 L797.00,628.41 L797.25,640.14 L797.50,652.32 L797.75,664.64 L798.00,676.75 L798.25,688.35 L798.50,699.11 L798.75,708.76 L799.00,717.03 L799.25,723.70 L799.50,728.60 L799.75,731.59 L800.00,732.60 L800.25,731.73 L800.50,729.12 L800.75,724.84 L801.00,719.00 L801.25,711.71 L801.50,703.14 L801.75,693.50 L802.00,683.00 L802.25,671.88 L802.50,660.39 L802.75,648.80 L803.00,637.36 L803.25,626.34 L803.50,615.99 L803.75,606.55 L804.00,598.23 L804.25,591.21 L804.50,585.67 L804.75,581.72 L805.00,579.46 L805.25,578.94 L805.50,580.40 L805.75,583.89 L806.00,589.34 L806.25,596.58 L806.50,605.44 L806.75,615.66 L807.00,626.99 L807.25,639.11 L807.50,651.71 L807.75,664.44 L808.00,676.96 L808.25,688.95 L808.50,700.08 L808.75,710.05 L809.00,718.60 L809.25,725.50 L809.50,730.57 L809.75,733.66 L810.00,734.70 L810.25,733.77 L810.50,731.01 L810.75,726.49 L811.00,720.32 L811.25,712.65 L811.50,703.66 L811.75,693.59 L812.00,682.67 L812.25,671.18 L812.50,659.40 L812.75,647.62 L813.00,636.13 L813.25,625.21 L813.50,615.14 L813.75,606.15 L814.00,598.48 L814.25,592.31 L814.50,587.79 L814.75,585.03 L815.00,584.10 L815.25,584.90 L815.50,587.28 L815.75,591.20 L816.00,596.55 L816.25,603.24 L816.50,611.10 L816.75,619.98 L817.00,629.66 L817.25,639.95 L817.50,650.62 L817.75,661.42 L818.00,672.14 L818.25,682.52 L818.50,692.34 L818.75,701.40 L819.00,709.48 L819.25,716.41 L819.50,722.04 L819.75,726.25 L820.00,728.95 L820.25,730.07 L820.50,729.49 L820.75,727.04 L821.00,722.76 L821.25,716.77 L821.50,709.23 L821.75,700.32 L822.00,690.27 L822.25,679.35 L822.50,667.83 L822.75,656.00 L823.00,644.17 L823.25,632.65 L823.50,621.73 L823.75,611.68 L824.00,602.77 L824.25,595.23 L824.50,589.24 L824.75,584.96 L825.00,582.51 L825.25,581.94 L825.50,583.37 L825.75,586.79 L826.00,592.12 L826.25,599.21 L826.50,607.87 L826.75,617.88 L827.00,628.97 L827.25,640.84 L827.50,653.16 L827.75,665.62 L828.00,677.88 L828.25,689.62 L828.50,700.51 L828.75,710.27 L829.00,718.64 L829.25,725.40 L829.50,730.35 L829.75,733.38 L830.00,734.40 L830.25,733.47 L830.50,730.71 L830.75,726.18 L831.00,719.99 L831.25,712.28 L831.50,703.25 L831.75,693.09 L832.00,682.06 L832.25,670.41 L832.50,658.41 L832.75,646.37 L833.00,634.54 L833.25,623.23 L833.50,612.69 L833.75,603.18 L834.00,594.92 L834.25,588.10 L834.50,582.89 L834.75,579.42 L835.00,577.75 L835.25,577.94 L835.50,580.01 L835.75,583.90 L836.00,589.53 L836.25,596.75 L836.50,605.39 L836.75,615.23 L837.00,626.03 L837.25,637.53 L837.50,649.44 L837.75,661.46 L838.00,673.31 L838.25,684.69 L838.50,695.32 L838.75,704.94 L839.00,713.31 L839.25,720.23 L839.50,725.52 L839.75,729.05 L840.00,730.75 L840.25,730.60 L840.50,728.80 L840.75,725.39 L841.00,720.47 L841.25,714.13 L841.50,706.53 L841.75,697.83 L842.00,688.24 L842.25,677.98 L842.50,667.27 L842.75,656.36 L843.00,645.51 L843.25,634.95 L843.50,624.93 L843.75,615.67 L844.00,607.39 L844.25,600.28 L844.50,594.49 L844.75,590.16 L845.00,587.39 L845.25,586.23 L845.50,586.82 L845.75,589.33 L846.00,593.71 L846.25,599.82 L846.50,607.52 L846.75,616.60 L847.00,626.80 L847.25,637.87 L847.50,649.50 L847.75,661.38 L848.00,673.20 L848.25,684.64 L848.50,695.40 L848.75,705.18 L849.00,713.73 L849.25,720.82 L849.50,726.26 L849.75,729.90 L850.00,731.64 L850.25,731.50 L850.50,729.65 L850.75,726.16 L851.00,721.11 L851.25,714.62 L851.50,706.84 L851.75,697.93 L852.00,688.11 L852.25,677.60 L852.50,666.63 L852.75,655.46 L853.00,644.34 L853.25,633.53 L853.50,623.26 L853.75,613.78 L854.00,605.30 L854.25,598.02 L854.50,592.09 L854.75,587.65 L855.00,584.81 L855.25,583.63 L855.50,584.23 L855.75,586.79 L856.00,591.24 L856.25,597.47 L856.50,605.30 L856.75,614.54 L857.00,624.93 L857.25,636.19 L857.50,648.03 L857.75,660.12 L858.00,672.16 L858.25,683.80 L858.50,694.75 L858.75,704.71 L859.00,713.41 L859.25,720.63 L859.50,726.16 L859.75,729.86 L860.00,731.64 L860.25,731.49 L860.50,729.58 L860.75,725.98 L861.00,720.77 L861.25,714.08 L861.50,706.05 L861.75,696.86 L862.00,686.73 L862.25,675.88 L862.50,664.57 L862.75,653.04 L863.00,641.57 L863.25,630.41 L863.50,619.82 L863.75,610.04 L864.00,601.29 L864.25,593.77 L864.50,587.66 L864.75,583.08 L865.00,580.15 L865.25,578.93 L865.50,579.61 L865.75,582.46 L866.00,587.42 L866.25,594.34 L866.50,603.03 L866.75,613.22 L867.00,624.62 L867.25,636.91 L867.50,649.71 L867.75,662.67 L868.00,675.40 L868.25,687.54 L868.50,698.73 L868.75,708.64 L869.00,716.99 L869.25,723.53 L869.50,728.08 L869.75,730.50 L870.00,730.76 L870.25,729.22 L870.50,725.98 L870.75,721.14 L871.00,714.80 L871.25,707.10 L871.50,698.22 L871.75,688.37 L872.00,677.76 L872.25,666.63 L872.50,655.25 L872.75,643.87 L873.00,632.74 L873.25,622.13 L873.50,612.28 L873.75,603.40 L874.00,595.70 L874.25,589.36 L874.50,584.52 L874.75,581.28 L875.00,579.74 L875.25,579.96 L875.50,582.16 L875.75,586.31 L876.00,592.28 L876.25,599.93 L876.50,609.04 L876.75,619.38 L877.00,630.66 L877.25,642.59 L877.50,654.85 L877.75,667.11 L878.00,679.04 L878.25,690.32 L878.50,700.66 L878.75,709.77 L879.00,717.42 L879.25,723.39 L879.50,727.54 L879.75,729.74 L880.00,729.98 L880.25,728.67 L880.50,725.92 L880.75,721.78 L881.00,716.36 L881.25,709.75 L881.50,702.09 L881.75,693.53 L882.00,684.25 L882.25,674.45 L882.50,664.31 L882.75,654.04 L883.00,643.86 L883.25,633.97 L883.50,624.57 L883.75,615.86 L884.00,608.01 L884.25,601.17 L884.50,595.50 L884.75,591.10 L885.00,588.07 L885.25,586.46 L885.50,586.36 L885.75,588.17 L886.00,591.94 L886.25,597.57 L886.50,604.89 L886.75,613.71 L887.00,623.78 L887.25,634.82 L887.50,646.52 L887.75,658.55 L888.00,670.58 L888.25,682.28 L888.50,693.32 L888.75,703.39 L889.00,712.21 L889.25,719.53 L889.50,725.16 L889.75,728.93 L890.00,730.74 L890.25,730.57 L890.50,728.55 L890.75,724.75 L891.00,719.25 L891.25,712.18 L891.50,703.72 L891.75,694.06 L892.00,683.43 L892.25,672.08 L892.50,660.28 L892.75,648.31 L893.00,636.46 L893.25,625.00 L893.50,614.20 L893.75,604.33 L894.00,595.61 L894.25,588.25 L894.50,582.42 L894.75,578.27 L895.00,575.89 L895.25,575.34 L895.50,576.80 L895.75,580.32 L896.00,585.78 L896.25,593.06 L896.50,601.96 L896.75,612.23 L897.00,623.61 L897.25,635.78 L897.50,648.43 L897.75,661.22 L898.00,673.80 L898.25,685.84 L898.50,697.02 L898.75,707.04 L899.00,715.63 L899.25,722.56 L899.50,727.65 L899.75,730.75 L900.00,731.80 L900.25,730.92 L900.50,728.31 L900.75,724.02 L901.00,718.15 L901.25,710.84 L901.50,702.25 L901.75,692.58 L902.00,682.04 L902.25,670.88 L902.50,659.36 L902.75,647.72 L903.00,636.25 L903.25,625.20 L903.50,614.81 L903.75,605.34 L904.00,596.99 L904.25,589.95 L904.50,584.39 L904.75,580.43 L905.00,578.16 L905.25,577.64 L905.50,579.08 L905.75,582.54 L906.00,587.93 L906.25,595.10 L906.50,603.86 L906.75,613.99 L907.00,625.20 L907.25,637.19 L907.50,649.66 L907.75,662.26 L908.00,674.65 L908.25,686.52 L908.50,697.53 L908.75,707.40 L909.00,715.87 L909.25,722.70 L909.50,727.71 L909.75,730.77 L910.00,731.80 L910.25,730.94 L910.50,728.39 L910.75,724.19 L911.00,718.45 L911.25,711.30 L911.50,702.90 L911.75,693.44 L912.00,683.14 L912.25,672.23 L912.50,660.95 L912.75,649.58 L913.00,638.36 L913.25,627.55 L913.50,617.39 L913.75,608.13 L914.00,599.96 L914.25,593.08 L914.50,587.64 L914.75,583.77 L915.00,581.55 L915.25,581.04 L915.50,582.60 L915.75,586.35 L916.00,592.17 L916.25,599.89 L916.50,609.30 L916.75,620.11 L917.00,632.01 L917.25,644.67 L917.50,657.70 L917.75,670.73 L918.00,683.39 L918.25,695.29 L918.50,706.10 L918.75,715.51 L919.00,723.23 L919.25,729.05 L919.50,732.80 L919.75,734.36 L920.00,733.90 L920.25,731.89 L920.50,728.39 L920.75,723.45 L921.00,717.18 L921.25,709.71 L921.50,701.19 L921.75,691.79 L922.00,681.71 L922.25,671.15 L922.50,660.33 L922.75,649.46 L923.00,638.77 L923.25,628.47 L923.50,618.77 L923.75,609.88 L924.00,601.97 L924.25,595.21 L924.50,589.72 L924.75,585.63 L925.00,583.02 L925.25,581.93 L925.50,582.53 L925.75,585.05 L926.00,589.45 L926.25,595.61 L926.50,603.38 L926.75,612.54 L927.00,622.88 L927.25,634.12 L927.50,645.98 L927.75,658.15 L928.00,670.32 L928.25,682.18 L928.50,693.42 L928.75,703.76 L929.00,712.92 L929.25,720.69 L929.50,726.85 L929.75,731.25 L930.00,733.77 L930.25,734.36 L930.50,733.05 L930.75,729.89 L931.00,724.96 L931.25,718.38 L931.50,710.30 L931.75,700.92 L932.00,690.45 L932.25,679.14 L932.50,667.26 L932.75,655.10 L933.00,642.94 L933.25,631.06 L933.50,619.75 L933.75,609.28 L934.00,599.90 L934.25,591.82 L934.50,585.24 L934.75,580.31 L935.00,577.15 L935.25,575.84 L935.50,576.51 L935.75,579.36 L936.00,584.32 L936.25,591.26 L936.50,599.97 L936.75,610.22 L937.00,621.72 L937.25,634.15 L937.50,647.16 L937.75,660.40 L938.00,673.48 L938.25,686.06 L938.50,697.77 L938.75,708.29 L939.00,717.33 L939.25,724.64 L939.50,730.01 L939.75,733.30 L940.00,734.40 L940.25,733.57 L940.50,731.10 L940.75,727.05 L941.00,721.50 L941.25,714.58 L941.50,706.43 L941.75,697.24 L942.00,687.21 L942.25,676.56 L942.50,665.51 L942.75,654.32 L943.00,643.23 L943.25,632.48 L943.50,622.30 L943.75,612.93 L944.00,604.56 L944.25,597.38 L944.50,591.54 L944.75,587.18 L945.00,584.39 L945.25,583.23 L945.50,583.93 L945.75,586.85 L946.00,591.93 L946.25,599.00 L946.50,607.84 L946.75,618.17 L947.00,629.65 L947.25,641.92 L947.50,654.60 L947.75,667.28 L948.00,679.55 L948.25,691.03 L948.50,701.36 L948.75,710.20 L949.00,717.27 L949.25,722.35 L949.50,725.27" fill="none" stroke="#000" stroke-width="2.5" stroke-linejoin="round" />
<path d="M699.60,467.00 L699.85,467.35 L700.10,468.11 L700.35,469.16 L700.60,470.29 L700.85,471.29 L701.10,471.98 L701.35,472.13 L701.60,471.51 L701.85,470.62 L702.10,469.47 L702.35,468.07 L702.60,466.42 L702.85,464.51 L703.10,462.37 L703.35,459.99 L703.60,457.39 L703.85,454.58 L704.10,451.56 L704.35,448.35 L704.60,444.96 L704.85,441.40 L705.10,437.69 L705.35,433.85 L705.60,429.88 L705.85,425.80 L706.10,421.64 L706.35,417.40 L706.60,413.11 L706.85,408.78 L707.10,404.42 L707.35,400.06 L707.60,395.72 L707.85,391.41 L708.10,387.15 L708.35,382.95 L708.60,378.84 L708.85,374.83 L709.10,370.93 L709.35,367.16 L709.60,363.54 L709.85,360.09 L710.10,356.80 L710.35,353.71 L710.60,350.81 L710.85,348.12 L711.10,345.65 L711.35,343.42 L711.60,341.42 L711.85,339.66 L712.10,338.16 L712.35,336.91 L712.60,335.92 L712.85,335.19 L713.10,335.06 L713.35,335.69 L713.60,336.55 L713.85,337.65 L714.10,338.98 L714.35,340.53 L714.60,342.31 L714.85,344.30 L715.10,346.50 L715.35,348.90 L715.60,351.50 L715.85,354.29 L716.10,357.25 L716.35,360.38 L716.60,363.67 L716.85,367.09 L717.10,370.66 L717.35,374.34 L717.60,378.12 L717.85,382.00 L718.10,385.96 L718.35,389.98 L718.60,394.06 L718.85,398.17 L719.10,402.30 L719.35,406.43 L719.60,410.56 L719.85,414.66 L720.10,418.73 L720.35,422.74 L720.60,426.68 L720.85,430.54 L721.10,434.31 L721.35,437.97 L721.60,441.50 L721.85,444.90 L722.10,448.16 L722.35,451.25 L722.60,454.18 L722.85,456.93 L723.10,459.49 L723.35,461.86 L723.60,464.02 L723.85,465.97 L724.10,467.70 L724.35,469.20 L724.60,470.49 L724.85,471.54 L725.10,472.35 L725.35,472.94 L725.60,472.59 L725.85,471.82 L726.10,470.79 L726.35,469.52 L726.60,467.99 L726.85,466.22 L727.10,464.22 L727.35,461.99 L727.60,459.53 L727.85,456.86 L728.10,453.98 L728.35,450.91 L728.60,447.65 L728.85,444.23 L729.10,440.64 L729.35,436.91 L729.60,433.04 L729.85,429.06 L730.10,424.97 L730.35,420.80 L730.60,416.55 L730.85,412.25 L731.10,407.91 L731.35,403.55 L731.60,399.18 L731.85,394.82 L732.10,390.48 L732.35,386.19 L732.60,381.96 L732.85,377.80 L733.10,373.74 L733.35,369.78 L733.60,365.94 L733.85,362.23 L734.10,358.68 L734.35,355.28 L734.60,352.06 L734.85,349.03 L735.10,346.19 L735.35,343.56 L735.60,341.15 L735.85,338.96 L736.10,337.00 L736.35,335.28 L736.60,333.81 L736.85,332.58 L737.10,331.61 L737.35,330.89 L737.60,330.75 L737.85,331.33 L738.10,332.10 L738.35,333.08 L738.60,334.26 L738.85,335.63 L739.10,337.19 L739.35,338.94 L739.60,340.88 L739.85,342.99 L740.10,345.28 L740.35,347.73 L740.60,350.35 L740.85,353.11 L741.10,356.03 L741.35,359.08 L741.60,362.25 L741.85,365.55 L742.10,368.95 L742.35,372.46 L742.60,376.05 L742.85,379.72 L743.10,383.47 L743.35,387.26 L743.60,391.11 L743.85,394.99 L744.10,398.89 L744.35,402.80 L744.60,406.71 L744.85,410.61 L745.10,414.49 L745.35,418.34 L745.60,422.13 L745.85,425.88 L746.10,429.55 L746.35,433.14 L746.60,436.65 L746.85,440.05 L747.10,443.35 L747.35,446.52 L747.60,449.57 L747.85,452.49 L748.10,455.25 L748.35,457.87 L748.60,460.32 L748.85,462.61 L749.10,464.72 L749.35,466.66 L749.60,468.41 L749.85,469.97 L750.10,471.34 L750.35,472.52 L750.60,473.50 L750.85,474.27 L751.10,474.85 L751.35,474.68 L751.60,473.85 L751.85,472.72 L752.10,471.28 L752.35,469.55 L752.60,467.52 L752.85,465.21 L753.10,462.62 L753.35,459.77 L753.60,456.66 L753.85,453.32 L754.10,449.75 L754.35,445.97 L754.60,442.01 L754.85,437.86 L755.10,433.56 L755.35,429.13 L755.60,424.57 L755.85,419.93 L756.10,415.21 L756.35,410.43 L756.60,405.63 L756.85,400.81 L757.10,396.01 L757.35,391.25 L757.60,386.54 L757.85,381.91 L758.10,377.38 L758.35,372.97 L758.60,368.70 L758.85,364.59 L759.10,360.65 L759.35,356.92 L759.60,353.39 L759.85,350.10 L760.10,347.04 L760.35,344.24 L760.60,341.71 L760.85,339.45 L761.10,337.48 L761.35,335.81 L761.60,334.43 L761.85,333.36 L762.10,332.59 L762.35,332.65 L762.60,333.28 L762.85,334.13 L763.10,335.19 L763.35,336.45 L763.60,337.93 L763.85,339.60 L764.10,341.47 L764.35,343.54 L764.60,345.79 L764.85,348.22 L765.10,350.82 L765.35,353.58 L765.60,356.50 L765.85,359.57 L766.10,362.77 L766.35,366.09 L766.60,369.53 L766.85,373.07 L767.10,376.70 L767.35,380.41 L767.60,384.19 L767.85,388.02 L768.10,391.90 L768.35,395.80 L768.60,399.72 L768.85,403.64 L769.10,407.55 L769.35,411.43 L769.60,415.28 L769.85,419.08 L770.10,422.82 L770.35,426.49 L770.60,430.07 L770.85,433.55 L771.10,436.92 L771.35,440.17 L771.60,443.29 L771.85,446.27 L772.10,449.09 L772.35,451.76 L772.60,454.26 L772.85,456.58 L773.10,458.72 L773.35,460.67 L773.60,462.43 L773.85,463.98 L774.10,465.33 L774.35,466.47 L774.60,467.40 L774.85,468.12 L775.10,468.62 L775.35,468.08 L775.60,467.28 L775.85,466.25 L776.10,464.97 L776.35,463.46 L776.60,461.72 L776.85,459.75 L777.10,457.56 L777.35,455.15 L777.60,452.55 L777.85,449.74 L778.10,446.75 L778.35,443.59 L778.60,440.26 L778.85,436.78 L779.10,433.16 L779.35,429.42 L779.60,425.56 L779.85,421.61 L780.10,417.57 L780.35,413.46 L780.60,409.31 L780.85,405.11 L781.10,400.89 L781.35,396.67 L781.60,392.45 L781.85,388.26 L782.10,384.11 L782.35,380.02 L782.60,375.99 L782.85,372.06 L783.10,368.22 L783.35,364.50 L783.60,360.91 L783.85,357.46 L784.10,354.16 L784.35,351.03 L784.60,348.08 L784.85,345.32 L785.10,342.75 L785.35,340.39 L785.60,338.24 L785.85,336.32 L786.10,334.62 L786.35,333.15 L786.60,331.93 L786.85,330.94 L787.10,330.19 L787.35,329.86 L787.60,330.44 L787.85,331.25 L788.10,332.29 L788.35,333.55 L788.60,335.04 L788.85,336.74 L789.10,338.65 L789.35,340.78 L789.60,343.10 L789.85,345.62 L790.10,348.32 L790.35,351.20 L790.60,354.25 L790.85,357.46 L791.10,360.81 L791.35,364.30 L791.60,367.92 L791.85,371.65 L792.10,375.48 L792.35,379.40 L792.60,383.39 L792.85,387.44 L793.10,391.55 L793.35,395.68 L793.60,399.84 L793.85,404.00 L794.10,408.15 L794.35,412.28 L794.60,416.37 L794.85,420.41 L795.10,424.39 L795.35,428.29 L795.60,432.11 L795.85,435.81 L796.10,439.41 L796.35,442.87 L796.60,446.20 L796.85,449.37 L797.10,452.39 L797.35,455.23 L797.60,457.90 L797.85,460.38 L798.10,462.66 L798.35,464.75 L798.60,466.62 L798.85,468.28 L799.10,469.72 L799.35,470.93 L799.60,471.93 L799.85,472.69 L800.10,473.23 L800.35,472.68 L800.60,471.88 L800.85,470.85 L801.10,469.57 L801.35,468.06 L801.60,466.32 L801.85,464.35 L802.10,462.16 L802.35,459.75 L802.60,457.15 L802.85,454.34 L803.10,451.35 L803.35,448.19 L803.60,444.86 L803.85,441.38 L804.10,437.76 L804.35,434.02 L804.60,430.16 L804.85,426.21 L805.10,422.17 L805.35,418.06 L805.60,413.91 L805.85,409.71 L806.10,405.49 L806.35,401.27 L806.60,397.05 L806.85,392.86 L807.10,388.71 L807.35,384.62 L807.60,380.59 L807.85,376.66 L808.10,372.82 L808.35,369.10 L808.60,365.51 L808.85,362.06 L809.10,358.76 L809.35,355.63 L809.60,352.68 L809.85,349.92 L810.10,347.35 L810.35,344.99 L810.60,342.84 L810.85,340.92 L811.10,339.22 L811.35,337.75 L811.60,336.53 L811.85,335.54 L812.10,334.79 L812.35,334.46 L812.60,335.05 L812.85,335.86 L813.10,336.92 L813.35,338.20 L813.60,339.72 L813.85,341.46 L814.10,343.41 L814.35,345.58 L814.60,347.95 L814.85,350.52 L815.10,353.28 L815.35,356.22 L815.60,359.33 L815.85,362.59 L816.10,366.00 L816.35,369.55 L816.60,373.21 L816.85,376.99 L817.10,380.85 L817.35,384.80 L817.60,388.81 L817.85,392.88 L818.10,396.98 L818.35,401.10 L818.60,405.23 L818.85,409.34 L819.10,413.44 L819.35,417.49 L819.60,421.49 L819.85,425.43 L820.10,429.28 L820.35,433.03 L820.60,436.67 L820.85,440.19 L821.10,443.57 L821.35,446.81 L821.60,449.88 L821.85,452.78 L822.10,455.50 L822.35,458.04 L822.60,460.37 L822.85,462.50 L823.10,464.41 L823.35,466.10 L823.60,467.57 L823.85,468.81 L824.10,469.82 L824.35,470.59 L824.60,471.12 L824.85,470.58 L825.10,469.80 L825.35,468.77 L825.60,467.52 L825.85,466.03 L826.10,464.31 L826.35,462.37 L826.60,460.22 L826.85,457.85 L827.10,455.29 L827.35,452.53 L827.60,449.59 L827.85,446.47 L828.10,443.19 L828.35,439.76 L828.60,436.19 L828.85,432.49 L829.10,428.68 L829.35,424.77 L829.60,420.77 L829.85,416.70 L830.10,412.58 L830.35,408.41 L830.60,404.22 L830.85,400.01 L831.10,395.80 L831.35,391.62 L831.60,387.47 L831.85,383.36 L832.10,379.32 L832.35,375.36 L832.60,371.48 L832.85,367.72 L833.10,364.07 L833.35,360.55 L833.60,357.18 L833.85,353.96 L834.10,350.92 L834.35,348.05 L834.60,345.36 L834.85,342.88 L835.10,340.59 L835.35,338.52 L835.60,336.67 L835.85,335.05 L836.10,333.65 L836.35,332.49 L836.60,331.56 L836.85,330.87 L837.10,330.76 L837.35,331.38 L837.60,332.23 L837.85,333.30 L838.10,334.60 L838.35,336.11 L838.60,337.84 L838.85,339.78 L839.10,341.92 L839.35,344.26 L839.60,346.79 L839.85,349.50 L840.10,352.39 L840.35,355.44 L840.60,358.65 L840.85,362.00 L841.10,365.48 L841.35,369.09 L841.60,372.81 L841.85,376.63 L842.10,380.54 L842.35,384.52 L842.60,388.55 L842.85,392.64 L843.10,396.76 L843.35,400.89 L843.60,405.04 L843.85,409.17 L844.10,413.28 L844.35,417.36 L844.60,421.39 L844.85,425.35 L845.10,429.24 L845.35,433.04 L845.60,436.74 L845.85,440.32 L846.10,443.78 L846.35,447.11 L846.60,450.29 L846.85,453.30 L847.10,456.16 L847.35,458.83 L847.60,461.33 L847.85,463.63 L848.10,465.73 L848.35,467.62 L848.60,469.31 L848.85,470.78 L849.10,472.03 L849.35,473.06 L849.60,473.86 L849.85,474.44 L850.10,474.09 L850.35,473.32 L850.60,472.30 L850.85,471.02 L851.10,469.50 L851.35,467.74 L851.60,465.74 L851.85,463.51 L852.10,461.06 L852.35,458.39 L852.60,455.52 L852.85,452.46 L853.10,449.21 L853.35,445.79 L853.60,442.21 L853.85,438.48 L854.10,434.63 L854.35,430.65 L854.60,426.57 L854.85,422.41 L855.10,418.17 L855.35,413.88 L855.60,409.55 L855.85,405.19 L856.10,400.83 L856.35,396.48 L856.60,392.16 L856.85,387.88 L857.10,383.65 L857.35,379.50 L857.60,375.45 L857.85,371.49 L858.10,367.66 L858.35,363.96 L858.60,360.42 L858.85,357.03 L859.10,353.82 L859.35,350.79 L859.60,347.96 L859.85,345.33 L860.10,342.93 L860.35,340.74 L860.60,338.79 L860.85,337.07 L861.10,335.60 L861.35,334.38 L861.60,333.41 L861.85,332.69 L862.10,332.56 L862.35,333.18 L862.60,334.04 L862.85,335.13 L863.10,336.44 L863.35,337.98 L863.60,339.74 L863.85,341.72 L864.10,343.90 L864.35,346.28 L864.60,348.86 L864.85,351.62 L865.10,354.56 L865.35,357.66 L865.60,360.92 L865.85,364.31 L866.10,367.84 L866.35,371.49 L866.60,375.25 L866.85,379.09 L867.10,383.02 L867.35,387.00 L867.60,391.04 L867.85,395.12 L868.10,399.21 L868.35,403.31 L868.60,407.40 L868.85,411.47 L869.10,415.50 L869.35,419.47 L869.60,423.38 L869.85,427.21 L870.10,430.95 L870.35,434.57 L870.60,438.08 L870.85,441.45 L871.10,444.67 L871.35,447.74 L871.60,450.65 L871.85,453.37 L872.10,455.91 L872.35,458.25 L872.60,460.39 L872.85,462.33 L873.10,464.04 L873.35,465.54 L873.60,466.81 L873.85,467.85 L874.10,468.66 L874.35,469.24 L874.60,468.90 L874.85,468.15 L875.10,467.15 L875.35,465.91 L875.60,464.42 L875.85,462.70 L876.10,460.75 L876.35,458.57 L876.60,456.18 L876.85,453.58 L877.10,450.78 L877.35,447.78 L877.60,444.61 L877.85,441.27 L878.10,437.78 L878.35,434.14 L878.60,430.38 L878.85,426.50 L879.10,422.52 L879.35,418.46 L879.60,414.32 L879.85,410.13 L880.10,405.90 L880.35,401.65 L880.60,397.40 L880.85,393.15 L881.10,388.93 L881.35,384.75 L881.60,380.63 L881.85,376.58 L882.10,372.62 L882.35,368.76 L882.60,365.02 L882.85,361.41 L883.10,357.95 L883.35,354.64 L883.60,351.50 L883.85,348.55 L884.10,345.79 L884.35,343.22 L884.60,340.87 L884.85,338.74 L885.10,336.84 L885.35,335.16 L885.60,333.73 L885.85,332.53 L886.10,331.58 L886.35,330.88 L886.60,330.76 L886.85,331.38 L887.10,332.22 L887.35,333.28 L887.60,334.56 L887.85,336.06 L888.10,337.77 L888.35,339.69 L888.60,341.82 L888.85,344.13 L889.10,346.64 L889.35,349.33 L889.60,352.19 L889.85,355.21 L890.10,358.39 L890.35,361.71 L890.60,365.17 L890.85,368.75 L891.10,372.43 L891.35,376.22 L891.60,380.09 L891.85,384.03 L892.10,388.03 L892.35,392.08 L892.60,396.16 L892.85,400.26 L893.10,404.36 L893.35,408.46 L893.60,412.54 L893.85,416.57 L894.10,420.57 L894.35,424.49 L894.60,428.35 L894.85,432.11 L895.10,435.78 L895.35,439.33 L895.60,442.76 L895.85,446.06 L896.10,449.20 L896.35,452.20 L896.60,455.02 L896.85,457.68 L897.10,460.15 L897.35,462.42 L897.60,464.51 L897.85,466.39 L898.10,468.06 L898.35,469.51 L898.60,470.75 L898.85,471.77 L899.10,472.57 L899.35,473.14 L899.60,472.81 L899.85,472.09 L900.10,471.12 L900.35,469.93 L900.60,468.50 L900.85,466.85 L901.10,464.98 L901.35,462.89 L901.60,460.60 L901.85,458.10 L902.10,455.41 L902.35,452.54 L902.60,449.50 L902.85,446.29 L903.10,442.93 L903.35,439.43 L903.60,435.80 L903.85,432.05 L904.10,428.21 L904.35,424.28 L904.60,420.27 L904.85,416.21 L905.10,412.10 L905.35,407.96 L905.60,403.80 L905.85,399.64 L906.10,395.50 L906.35,391.39 L906.60,387.33 L906.85,383.32 L907.10,379.39 L907.35,375.55 L907.60,371.80 L907.85,368.17 L908.10,364.67 L908.35,361.31 L908.60,358.10 L908.85,355.06 L909.10,352.19 L909.35,349.50 L909.60,347.00 L909.85,344.71 L910.10,342.62 L910.35,340.75 L910.60,339.10 L910.85,337.67 L911.10,336.48 L911.35,335.51 L911.60,334.79 L911.85,334.47 L912.10,335.06 L912.35,335.91 L912.60,337.00 L912.85,338.32 L913.10,339.89 L913.35,341.69 L913.60,343.71 L913.85,345.96 L914.10,348.41 L914.35,351.07 L914.60,353.93 L914.85,356.97 L915.10,360.18 L915.35,363.55 L915.60,367.07 L915.85,370.73 L916.10,374.51 L916.35,378.40 L916.60,382.38 L916.85,386.44 L917.10,390.56 L917.35,394.73 L917.60,398.93 L917.85,403.15 L918.10,407.37 L918.35,411.57 L918.60,415.74 L918.85,419.86 L919.10,423.92 L919.35,427.90 L919.60,431.79 L919.85,435.57 L920.10,439.23 L920.35,442.75 L920.60,446.12 L920.85,449.33 L921.10,452.37 L921.35,455.23 L921.60,457.89 L921.85,460.34 L922.10,462.59 L922.35,464.61 L922.60,466.41 L922.85,467.98 L923.10,469.30 L923.35,470.39 L923.60,471.24 L923.85,471.83 L924.10,471.50 L924.35,470.76 L924.60,469.77 L924.85,468.55 L925.10,467.09 L925.35,465.40 L925.60,463.48 L925.85,461.35 L926.10,459.00 L926.35,456.44 L926.60,453.69 L926.85,450.75 L927.10,447.63 L927.35,444.35 L927.60,440.91 L927.85,437.32 L928.10,433.61 L928.35,429.78 L928.60,425.84 L928.85,421.81 L929.10,417.71 L929.35,413.55 L929.60,409.34 L929.85,405.10 L930.10,400.85 L930.35,396.60 L930.60,392.36 L930.85,388.15 L931.10,383.99 L931.35,379.89 L931.60,375.86 L931.85,371.92 L932.10,368.09 L932.35,364.38 L932.60,360.79 L932.85,357.35 L933.10,354.07 L933.35,350.95 L933.60,348.01 L933.85,345.26 L934.10,342.70 L934.35,340.35 L934.60,338.22 L934.85,336.30 L935.10,334.61 L935.35,333.15 L935.60,331.93 L935.85,330.94 L936.10,330.20 L936.35,329.87 L936.60,330.47 L936.85,331.33 L937.10,332.43 L937.35,333.78 L937.60,335.37 L937.85,337.19 L938.10,339.24 L938.35,341.52 L938.60,344.01 L938.85,346.70 L939.10,349.60 L939.35,352.68 L939.60,355.93 L939.85,359.35 L940.10,362.92 L940.35,366.63 L940.60,370.46 L940.85,374.40 L941.10,378.43 L941.35,382.55 L941.60,386.73 L941.85,390.95 L942.10,395.21 L942.35,399.49 L942.60,403.76 L942.85,408.02 L943.10,412.25 L943.35,416.43 L943.60,420.54 L943.85,424.58 L944.10,428.52 L944.35,432.35 L944.60,436.06 L944.85,439.63 L945.10,443.04 L945.35,446.30 L945.60,449.38 L945.85,452.27 L946.10,454.97 L946.35,457.46 L946.60,459.73 L946.85,461.79 L947.10,463.61 L947.35,465.20 L947.60,466.54 L947.85,467.65 L948.10,468.50 L948.35,469.11" fill="none" stroke="#1808fc" stroke-width="1.75" stroke-linejoin="round" />
<path d="M699.70,983.00 L699.95,982.92 L700.20,982.66 L700.45,982.23 L700.70,981.62 L700.95,980.81 L701.20,979.79 L701.45,978.55 L701.70,977.05 L701.95,975.29 L702.20,973.22 L702.45,970.82 L702.70,968.05 L702.95,964.88 L703.20,961.27 L703.45,957.19 L703.70,952.60 L703.95,947.48 L704.20,941.81 L704.45,935.58 L704.70,928.80 L704.95,921.49 L705.20,913.70 L705.45,905.51 L705.70,897.01 L705.95,888.32 L706.20,879.62 L706.45,871.07 L706.70,862.88 L706.95,855.25 L707.20,848.39 L707.45,842.52 L707.70,837.81 L707.95,834.42 L708.20,832.46 L708.45,831.99 L708.70,832.47 L708.95,833.64 L709.20,835.47 L709.45,837.94 L709.70,841.01 L709.95,844.64 L710.20,848.77 L710.45,853.34 L710.70,858.31 L710.95,863.59 L711.20,869.14 L711.45,874.88 L711.70,880.75 L711.95,886.69 L712.20,892.66 L712.45,898.59 L712.70,904.44 L712.95,910.17 L713.20,915.75 L713.45,921.14 L713.70,926.33 L713.95,931.29 L714.20,936.01 L714.45,940.49 L714.70,944.71 L714.95,948.68 L715.20,952.39 L715.45,955.86 L715.70,959.08 L715.95,962.07 L716.20,964.83 L716.45,967.37 L716.70,969.71 L716.95,971.86 L717.20,973.82 L717.45,975.61 L717.70,977.23 L717.95,978.70 L718.20,980.03 L718.45,981.23 L718.70,982.30 L718.95,983.25 L719.20,984.09 L719.45,984.83 L719.70,985.47 L719.95,986.01 L720.20,986.47 L720.45,986.84 L720.70,987.13 L720.95,987.34 L721.20,987.47 L721.45,987.52 L721.70,987.49 L721.95,987.37 L722.20,987.15 L722.45,986.83 L722.70,986.41 L722.95,985.88 L723.20,985.23 L723.45,984.47 L723.70,983.59 L723.95,982.56 L724.20,981.40 L724.45,980.08 L724.70,978.59 L724.95,976.93 L725.20,975.07 L725.45,973.00 L725.70,970.71 L725.95,968.19 L726.20,965.41 L726.45,962.37 L726.70,959.04 L726.95,955.43 L727.20,951.50 L727.45,947.27 L727.70,942.72 L727.95,937.86 L728.20,932.68 L728.45,927.21 L728.70,921.45 L728.95,915.44 L729.20,909.21 L729.45,902.79 L729.70,896.25 L729.95,889.64 L730.20,883.03 L730.45,876.49 L730.70,870.11 L730.95,863.97 L731.20,858.16 L731.45,852.77 L731.70,847.89 L731.95,843.60 L732.20,839.98 L732.45,837.09 L732.70,834.98 L732.95,833.70 L733.20,833.28 L733.45,833.57 L733.70,834.47 L733.95,835.95 L734.20,837.99 L734.45,840.57 L734.70,843.66 L734.95,847.21 L735.20,851.18 L735.45,855.52 L735.70,860.19 L735.95,865.13 L736.20,870.29 L736.45,875.61 L736.70,881.05 L736.95,886.57 L737.20,892.10 L737.45,897.62 L737.70,903.07 L737.95,908.44 L738.20,913.68 L738.45,918.78 L738.70,923.71 L738.95,928.45 L739.20,932.99 L739.45,937.32 L739.70,941.43 L739.95,945.33 L740.20,949.00 L740.45,952.46 L740.70,955.69 L740.95,958.72 L741.20,961.54 L741.45,964.16 L741.70,966.59 L741.95,968.84 L742.20,970.92 L742.45,972.83 L742.70,974.58 L742.95,976.19 L743.20,977.66 L743.45,979.00 L743.70,980.22 L743.95,981.32 L744.20,982.31 L744.45,983.20 L744.70,984.00 L744.95,984.70 L745.20,985.31 L745.45,985.85 L745.70,986.30 L745.95,986.68 L746.20,986.99 L746.45,987.22 L746.70,987.39 L746.95,987.49 L747.20,987.52 L747.45,987.47 L747.70,987.32 L747.95,987.07 L748.20,986.71 L748.45,986.24 L748.70,985.65 L748.95,984.94 L749.20,984.10 L749.45,983.13 L749.70,982.00 L749.95,980.72 L750.20,979.26 L750.45,977.62 L750.70,975.78 L750.95,973.72 L751.20,971.42 L751.45,968.88 L751.70,966.07 L751.95,962.98 L752.20,959.60 L752.45,955.90 L752.70,951.88 L752.95,947.53 L753.20,942.84 L753.45,937.82 L753.70,932.47 L753.95,926.82 L754.20,920.87 L754.45,914.67 L754.70,908.26 L754.95,901.68 L755.20,895.01 L755.45,888.30 L755.70,881.65 L755.95,875.14 L756.20,868.86 L756.45,862.91 L756.70,857.40 L756.95,852.41 L757.20,848.04 L757.45,844.38 L757.70,841.49 L757.95,839.44 L758.20,838.27 L758.45,837.99 L758.70,838.42 L758.95,839.46 L759.20,841.10 L759.45,843.30 L759.70,846.05 L759.95,849.31 L760.20,853.02 L760.45,857.15 L760.70,861.64 L760.95,866.43 L761.20,871.48 L761.45,876.73 L761.70,882.12 L761.95,887.59 L762.20,893.11 L762.45,898.63 L762.70,904.10 L762.95,909.48 L763.20,914.75 L763.45,919.87 L763.70,924.82 L763.95,929.58 L764.20,934.14 L764.45,938.49 L764.70,942.61 L764.95,946.51 L765.20,950.18 L765.45,953.62 L765.70,956.84 L765.95,959.85 L766.20,962.64 L766.45,965.23 L766.70,967.63 L766.95,969.84 L767.20,971.87 L767.45,973.74 L767.70,975.45 L767.95,977.01 L768.20,978.44 L768.45,979.73 L768.70,980.89 L768.95,981.95 L769.20,982.89 L769.45,983.73 L769.70,984.47 L769.95,985.13 L770.20,985.69 L770.45,986.18 L770.70,986.58 L770.95,986.92 L771.20,987.17 L771.45,987.36 L771.70,987.48 L771.95,987.52 L772.20,987.49 L772.45,987.37 L772.70,987.14 L772.95,986.82 L773.20,986.39 L773.45,985.86 L773.70,985.21 L773.95,984.44 L774.20,983.54 L774.45,982.50 L774.70,981.32 L774.95,979.98 L775.20,978.48 L775.45,976.78 L775.70,974.90 L775.95,972.80 L776.20,970.47 L776.45,967.91 L776.70,965.08 L776.95,961.99 L777.20,958.60 L777.45,954.92 L777.70,950.94 L777.95,946.63 L778.20,942.01 L778.45,937.06 L778.70,931.81 L778.95,926.26 L779.20,920.42 L779.45,914.34 L779.70,908.04 L779.95,901.57 L780.20,894.99 L780.45,888.36 L780.70,881.75 L780.95,875.23 L781.20,868.90 L781.45,862.85 L781.70,857.16 L781.95,851.92 L782.20,847.23 L782.45,843.16 L782.70,839.79 L782.95,837.18 L783.20,835.38 L783.45,834.43 L783.70,834.33 L783.95,834.94 L784.20,836.23 L784.45,838.17 L784.70,840.73 L784.95,843.87 L785.20,847.56 L785.45,851.73 L785.70,856.33 L785.95,861.31 L786.20,866.58 L786.45,872.10 L786.70,877.80 L786.95,883.62 L787.20,889.50 L787.45,895.39 L787.70,901.24 L787.95,907.00 L788.20,912.63 L788.45,918.11 L788.70,923.39 L788.95,928.48 L789.20,933.33 L789.45,937.95 L789.70,942.32 L789.95,946.44 L790.20,950.31 L790.45,953.93 L790.70,957.30 L790.95,960.44 L791.20,963.34 L791.45,966.02 L791.70,968.50 L791.95,970.77 L792.20,972.85 L792.45,974.75 L792.70,976.48 L792.95,978.06 L793.20,979.48 L793.45,980.77 L793.70,981.92 L793.95,982.96 L794.20,983.88 L794.45,984.69 L794.70,985.39 L794.95,986.01 L795.20,986.53 L795.45,986.96 L795.70,987.31 L795.95,987.58 L796.20,987.77 L796.45,987.89 L796.70,987.92 L796.95,987.88 L797.20,987.73 L797.45,987.49 L797.70,987.15 L797.95,986.71 L798.20,986.16 L798.45,985.49 L798.70,984.71 L798.95,983.79 L799.20,982.74 L799.45,981.55 L799.70,980.20 L799.95,978.67 L800.20,976.97 L800.45,975.07 L800.70,972.96 L800.95,970.63 L801.20,968.05 L801.45,965.22 L801.70,962.13 L801.95,958.74 L802.20,955.07 L802.45,951.08 L802.70,946.79 L802.95,942.18 L803.20,937.25 L803.45,932.01 L803.70,926.48 L803.95,920.67 L804.20,914.61 L804.45,908.34 L804.70,901.89 L804.95,895.33 L805.20,888.72 L805.45,882.11 L805.70,875.60 L805.95,869.26 L806.20,863.18 L806.45,857.45 L806.70,852.15 L806.95,847.38 L807.20,843.22 L807.45,839.74 L807.70,837.00 L807.95,835.06 L808.20,833.95 L808.45,833.69 L808.70,834.11 L808.95,835.12 L809.20,836.71 L809.45,838.87 L809.70,841.55 L809.95,844.73 L810.20,848.37 L810.45,852.42 L810.70,856.83 L810.95,861.56 L811.20,866.54 L811.45,871.74 L811.70,877.09 L811.95,882.55 L812.20,888.07 L812.45,893.61 L812.70,899.11 L812.95,904.55 L813.20,909.90 L813.45,915.11 L813.70,920.18 L813.95,925.07 L814.20,929.77 L814.45,934.27 L814.70,938.56 L814.95,942.63 L815.20,946.48 L815.45,950.11 L815.70,953.52 L815.95,956.72 L816.20,959.70 L816.45,962.48 L816.70,965.06 L816.95,967.46 L817.20,969.67 L817.45,971.71 L817.70,973.59 L817.95,975.32 L818.20,976.90 L818.45,978.34 L818.70,979.65 L818.95,980.85 L819.20,981.93 L819.45,982.90 L819.70,983.77 L819.95,984.54 L820.20,985.23 L820.45,985.83 L820.70,986.34 L820.95,986.78 L821.20,987.15 L821.45,987.44 L821.70,987.66 L821.95,987.82 L822.20,987.90 L822.45,987.92 L822.70,987.85 L822.95,987.68 L823.20,987.41 L823.45,987.04 L823.70,986.55 L823.95,985.95 L824.20,985.23 L824.45,984.38 L824.70,983.40 L824.95,982.26 L825.20,980.97 L825.45,979.51 L825.70,977.86 L825.95,976.01 L826.20,973.95 L826.45,971.66 L826.70,969.13 L826.95,966.33 L827.20,963.25 L827.45,959.88 L827.70,956.21 L827.95,952.21 L828.20,947.90 L828.45,943.25 L828.70,938.27 L828.95,932.98 L829.20,927.37 L829.45,921.49 L829.70,915.35 L829.95,908.99 L830.20,902.47 L830.45,895.85 L830.70,889.20 L830.95,882.59 L831.20,876.10 L831.45,869.84 L831.70,863.89 L831.95,858.36 L832.20,853.33 L832.45,848.89 L832.70,845.14 L832.95,842.14 L833.20,839.95 L833.45,838.62 L833.70,838.18 L833.95,838.52 L834.20,839.54 L834.45,841.23 L834.70,843.55 L834.95,846.48 L835.20,849.97 L835.45,853.96 L835.70,858.40 L835.95,863.23 L836.20,868.38 L836.45,873.79 L836.70,879.40 L836.95,885.14 L837.20,890.95 L837.45,896.78 L837.70,902.58 L837.95,908.29 L838.20,913.89 L838.45,919.32 L838.70,924.58 L838.95,929.62 L839.20,934.44 L839.45,939.03 L839.70,943.36 L839.95,947.44 L840.20,951.27 L840.45,954.85 L840.70,958.19 L840.95,961.28 L841.20,964.14 L841.45,966.78 L841.70,969.21 L841.95,971.44 L842.20,973.48 L842.45,975.34 L842.70,977.03 L842.95,978.56 L843.20,979.94 L843.45,981.19 L843.70,982.31 L843.95,983.30 L844.20,984.19 L844.45,984.96 L844.70,985.64 L844.95,986.22 L845.20,986.71 L845.45,987.11 L845.70,987.43 L845.95,987.67 L846.20,987.83 L846.45,987.91 L846.70,987.92 L846.95,987.84 L847.20,987.67 L847.45,987.41 L847.70,987.05 L847.95,986.60 L848.20,986.05 L848.45,985.39 L848.70,984.62 L848.95,983.73 L849.20,982.71 L849.45,981.56 L849.70,980.25 L849.95,978.80 L850.20,977.17 L850.45,975.36 L850.70,973.36 L850.95,971.15 L851.20,968.72 L851.45,966.06 L851.70,963.15 L851.95,959.98 L852.20,956.54 L852.45,952.81 L852.70,948.80 L852.95,944.50 L853.20,939.90 L853.45,935.01 L853.70,929.84 L853.95,924.40 L854.20,918.71 L854.45,912.80 L854.70,906.71 L854.95,900.48 L855.20,894.15 L855.45,887.78 L855.70,881.45 L855.95,875.21 L856.20,869.14 L856.45,863.33 L856.70,857.85 L856.95,852.79 L857.20,848.21 L857.45,844.20 L857.70,840.82 L857.95,838.12 L858.20,836.16 L858.45,834.97 L858.70,834.58 L858.95,834.93 L859.20,835.97 L859.45,837.70 L859.70,840.08 L859.95,843.08 L860.20,846.65 L860.45,850.74 L860.70,855.28 L860.95,860.23 L861.20,865.50 L861.45,871.05 L861.70,876.79 L861.95,882.67 L862.20,888.62 L862.45,894.59 L862.70,900.52 L862.95,906.38 L863.20,912.11 L863.45,917.67 L863.70,923.05 L863.95,928.22 L864.20,933.16 L864.45,937.85 L864.70,942.29 L864.95,946.47 L865.20,950.39 L865.45,954.06 L865.70,957.47 L865.95,960.64 L866.20,963.57 L866.45,966.27 L866.70,968.76 L866.95,971.04 L867.20,973.13 L867.45,975.03 L867.70,976.77 L867.95,978.33 L868.20,979.75 L868.45,981.03 L868.70,982.17 L868.95,983.19 L869.20,984.10 L869.45,984.89 L869.70,985.58 L869.95,986.18 L870.20,986.68 L870.45,987.09 L870.70,987.42 L870.95,987.66 L871.20,987.83 L871.45,987.91 L871.70,987.92 L871.95,987.84 L872.20,987.67 L872.45,987.42 L872.70,987.07 L872.95,986.63 L873.20,986.09 L873.45,985.44 L873.70,984.69 L873.95,983.82 L874.20,982.82 L874.45,981.69 L874.70,980.42 L874.95,979.00 L875.20,977.42 L875.45,975.66 L875.70,973.71 L875.95,971.57 L876.20,969.21 L876.45,966.62 L876.70,963.80 L876.95,960.73 L877.20,957.39 L877.45,953.78 L877.70,949.89 L877.95,945.71 L878.20,941.25 L878.45,936.50 L878.70,931.46 L878.95,926.16 L879.20,920.60 L879.45,914.81 L879.70,908.82 L879.95,902.67 L880.20,896.40 L880.45,890.06 L880.70,883.71 L880.95,877.42 L881.20,871.26 L881.45,865.29 L881.70,859.60 L881.95,854.26 L882.20,849.35 L882.45,844.95 L882.70,841.12 L882.95,837.92 L883.20,835.42 L883.45,833.64 L883.70,832.63 L883.95,832.39 L884.20,832.89 L884.45,834.09 L884.70,835.98 L884.95,838.52 L885.20,841.68 L885.45,845.41 L885.70,849.66 L885.95,854.35 L886.20,859.44 L886.45,864.85 L886.70,870.52 L886.95,876.38 L887.20,882.36 L887.45,888.41 L887.70,894.46 L887.95,900.47 L888.20,906.38 L888.45,912.16 L888.70,917.77 L888.95,923.19 L889.20,928.39 L889.45,933.34 L889.70,938.05 L889.95,942.50 L890.20,946.69 L890.45,950.62 L890.70,954.28 L890.95,957.70 L891.20,960.86 L891.45,963.79 L891.70,966.49 L891.95,968.97 L892.20,971.24 L892.45,973.32 L892.70,975.21 L892.95,976.94 L893.20,978.50 L893.45,979.91 L893.70,981.17 L893.95,982.31 L894.20,983.32 L894.45,984.21 L894.70,985.00 L894.95,985.68 L895.20,986.26 L895.45,986.75 L895.70,987.15 L895.95,987.46 L896.20,987.70 L896.45,987.85 L896.70,987.92 L896.95,987.91 L897.20,987.80 L897.45,987.60 L897.70,987.30 L897.95,986.90 L898.20,986.40 L898.45,985.78 L898.70,985.05 L898.95,984.19 L899.20,983.20 L899.45,982.07 L899.70,980.79 L899.95,979.34 L900.20,977.71 L900.45,975.90 L900.70,973.88 L900.95,971.64 L901.20,969.16 L901.45,966.44 L901.70,963.45 L901.95,960.18 L902.20,956.63 L902.45,952.77 L902.70,948.60 L902.95,944.11 L903.20,939.32 L903.45,934.21 L903.70,928.81 L903.95,923.13 L904.20,917.19 L904.45,911.04 L904.70,904.71 L904.95,898.26 L905.20,891.74 L905.45,885.23 L905.70,878.81 L905.95,872.54 L906.20,866.53 L906.45,860.85 L906.70,855.61 L906.95,850.88 L907.20,846.76 L907.45,843.30 L907.70,840.58 L907.95,838.65 L908.20,837.55 L908.45,837.29 L908.70,837.72 L908.95,838.75 L909.20,840.37 L909.45,842.57 L909.70,845.30 L909.95,848.53 L910.20,852.23 L910.45,856.33 L910.70,860.80 L910.95,865.57 L911.20,870.61 L911.45,875.84 L911.70,881.21 L911.95,886.68 L912.20,892.20 L912.45,897.72 L912.70,903.20 L912.95,908.59 L913.20,913.88 L913.45,919.02 L913.70,924.00 L913.95,928.79 L914.20,933.39 L914.45,937.77 L914.70,941.93 L914.95,945.87 L915.20,949.59 L915.45,953.08 L915.70,956.34 L915.95,959.39 L916.20,962.23 L916.45,964.87 L916.70,967.31 L916.95,969.57 L917.20,971.65 L917.45,973.56 L917.70,975.31 L917.95,976.91 L918.20,978.37 L918.45,979.70 L918.70,980.90 L918.95,981.99 L919.20,982.97 L919.45,983.84 L919.70,984.61 L919.95,985.30 L920.20,985.89 L920.45,986.41 L920.70,986.84 L920.95,987.20 L921.20,987.48 L921.45,987.69 L921.70,987.84 L921.95,987.91 L922.20,987.92 L922.45,987.83 L922.70,987.65 L922.95,987.36 L923.20,986.98 L923.45,986.48 L923.70,985.88 L923.95,985.16 L924.20,984.31 L924.45,983.33 L924.70,982.21 L924.95,980.94 L925.20,979.50 L925.45,977.88 L925.70,976.07 L925.95,974.06 L926.20,971.82 L926.45,969.35 L926.70,966.63 L926.95,963.64 L927.20,960.37 L927.45,956.81 L927.70,952.95 L927.95,948.77 L928.20,944.27 L928.45,939.45 L928.70,934.31 L928.95,928.87 L929.20,923.15 L929.45,917.15 L929.70,910.93 L929.95,904.52 L930.20,897.97 L930.45,891.35 L930.70,884.72 L930.95,878.15 L931.20,871.73 L931.45,865.55 L931.70,859.70 L931.95,854.27 L932.20,849.34 L932.45,845.01 L932.70,841.35 L932.95,838.43 L933.20,836.30 L933.45,835.01 L933.70,834.58 L933.95,834.97 L934.20,836.16 L934.45,838.12 L934.70,840.82 L934.95,844.20 L935.20,848.21 L935.45,852.79 L935.70,857.85 L935.95,863.33 L936.20,869.14 L936.45,875.21 L936.70,881.45 L936.95,887.78 L937.20,894.15 L937.45,900.48 L937.70,906.71 L937.95,912.80 L938.20,918.71 L938.45,924.40 L938.70,929.84 L938.95,935.01 L939.20,939.90 L939.45,944.50 L939.70,948.80 L939.95,952.81 L940.20,956.54 L940.45,959.98 L940.70,963.15 L940.95,966.06 L941.20,968.72 L941.45,971.15 L941.70,973.36 L941.95,975.36 L942.20,977.17 L942.45,978.80 L942.70,980.25 L942.95,981.56 L943.20,982.71 L943.45,983.73 L943.70,984.62 L943.95,985.39 L944.20,986.05 L944.45,986.60 L944.70,987.05 L944.95,987.41 L945.20,987.67 L945.45,987.84 L945.70,987.92 L945.95,987.92 L946.20,987.87 L946.45,987.79 L946.70,987.65 L946.95,987.45 L947.20,987.17 L947.45,986.80 L947.70,986.31 L947.95,985.70 L948.20,984.96 L948.45,984.12 L948.70,983.23 L948.95,982.38 L949.20,981.66 L949.45,981.17 L949.70,981.00" fill="none" stroke="#1808fc" stroke-width="1.75" stroke-linejoin="round" />
<line x1="1016.30" y1="243.10" x2="1264.80" y2="243.10" stroke="#000" stroke-width="2.3" stroke-linecap="butt"/>
<path d="M1096.73,243.10 L1098.03,240.10 L1098.23,181.83 L1100.03,181.83 L1100.23,240.10 L1101.53,243.10 Z" fill="#000" stroke="#000" stroke-width="0.5"/>
<path d="M1096.32,243.10 L1097.62,240.10 L1097.82,206.52 L1099.62,206.52 L1099.82,240.10 L1101.12,243.10 Z" fill="#000" stroke="#000" stroke-width="0.5"/>
<path d="M1220.98,243.10 L1222.28,240.10 L1222.48,60.20 L1224.28,60.20 L1224.48,240.10 L1225.78,243.10 Z" fill="#000" stroke="#000" stroke-width="0.5"/>
<path d="M1221.48,243.10 L1222.78,240.10 L1222.98,162.62 L1224.78,162.62 L1224.98,240.10 L1226.28,243.10 Z" fill="#000" stroke="#000" stroke-width="0.5"/>
<path d="M1220.57,243.10 L1221.87,240.10 L1222.07,224.81 L1223.87,224.81 L1224.07,240.10 L1225.37,243.10 Z" fill="#000" stroke="#000" stroke-width="0.5"/>
<path d="M1179.57,243.10 L1180.87,240.10 L1181.07,237.61 L1182.87,237.61 L1183.07,240.10 L1184.37,243.10 Z" fill="#000" stroke="#000" stroke-width="0.5"/>
<line x1="1018.75" y1="497.00" x2="1267.50" y2="497.00" stroke="#1808fc" stroke-width="1.5" stroke-linecap="butt"/>
<path d="M1099.67,497.00 L1100.97,494.00 L1101.17,314.50 L1102.17,314.50 L1102.37,494.00 L1103.67,497.00 Z" fill="#1808fc" stroke="#1808fc" stroke-width="0.5"/>
<path d="M1099.25,497.00 L1100.55,494.00 L1100.75,438.60 L1101.75,438.60 L1101.95,494.00 L1103.25,497.00 Z" fill="#1808fc" stroke="#1808fc" stroke-width="0.5"/>
<path d="M1100.91,497.00 L1102.21,494.00 L1102.41,487.88 L1103.41,487.88 L1103.61,494.00 L1104.91,497.00 Z" fill="#1808fc" stroke="#1808fc" stroke-width="0.5"/>
<line x1="1018.00" y1="747.00" x2="1267.50" y2="747.00" stroke="#000" stroke-width="2.3" stroke-linecap="butt"/>
<path d="M1223.52,747.00 L1224.82,744.00 L1225.02,563.25 L1226.82,563.25 L1227.02,744.00 L1228.32,747.00 Z" fill="#000" stroke="#000" stroke-width="0.5"/>
<path d="M1224.02,747.00 L1225.32,744.00 L1225.52,666.15 L1227.32,666.15 L1227.52,744.00 L1228.82,747.00 Z" fill="#000" stroke="#000" stroke-width="0.5"/>
<path d="M1223.10,747.00 L1224.40,744.00 L1224.60,739.65 L1226.40,739.65 L1226.60,744.00 L1227.90,747.00 Z" fill="#000" stroke="#000" stroke-width="0.5"/>
<line x1="1020.50" y1="1004.25" x2="1270.00" y2="1004.25" stroke="#1808fc" stroke-width="1.5" stroke-linecap="butt"/>
<path d="M1101.67,1004.25 L1102.97,1001.25 L1103.17,820.75 L1104.17,820.75 L1104.37,1001.25 L1105.67,1004.25 Z" fill="#1808fc" stroke="#1808fc" stroke-width="0.5"/>
<path d="M1102.17,1004.25 L1103.47,1001.25 L1103.67,907.00 L1104.67,907.00 L1104.87,1001.25 L1106.17,1004.25 Z" fill="#1808fc" stroke="#1808fc" stroke-width="0.5"/>
<path d="M1101.25,1004.25 L1102.55,1001.25 L1102.75,949.20 L1103.75,949.20 L1103.95,1001.25 L1105.25,1004.25 Z" fill="#1808fc" stroke="#1808fc" stroke-width="0.5"/>
<path d="M1184.83,1004.25 L1186.13,1001.25 L1186.33,989.57 L1187.33,989.57 L1187.53,1001.25 L1188.83,1004.25 Z" fill="#1808fc" stroke="#1808fc" stroke-width="0.5"/>
<path d="M1185.33,1004.25 L1186.63,1001.25 L1186.83,993.24 L1187.83,993.24 L1188.03,1001.25 L1189.33,1004.25 Z" fill="#1808fc" stroke="#1808fc" stroke-width="0.5"/>
<text x="1192.50" y="56.60" font-size="14.2" text-anchor="start"><tspan font-style="italic">f</tspan><tspan font-size="8.5" dy="6.0">m1</tspan><tspan dy="-6.0">= 50 GHz</tspan></text>
<text x="1063.80" y="178.30" font-size="14.2" text-anchor="start"><tspan font-style="italic">f</tspan><tspan font-size="8.5" dy="6.0">m2</tspan><tspan dy="-6.0"> = 20 GHz</tspan></text>
<text x="1064.50" y="311.80" font-size="14.2" text-anchor="start"><tspan font-style="italic">f</tspan><tspan font-size="8.5" dy="6.0">m2</tspan><tspan dy="-6.0"> = 20 GHz</tspan></text>
<text x="1195.00" y="560.80" font-size="14.2" text-anchor="start"><tspan font-style="italic">f</tspan><tspan font-size="8.5" dy="6.0">m1</tspan><tspan dy="-6.0">= 50 GHz</tspan></text>
<text x="1067.00" y="817.80" font-size="14.2" text-anchor="start"><tspan font-style="italic">f</tspan><tspan font-size="8.5" dy="6.0">m2</tspan><tspan dy="-6.0"> = 20 GHz</tspan></text>
</svg></body></html>
